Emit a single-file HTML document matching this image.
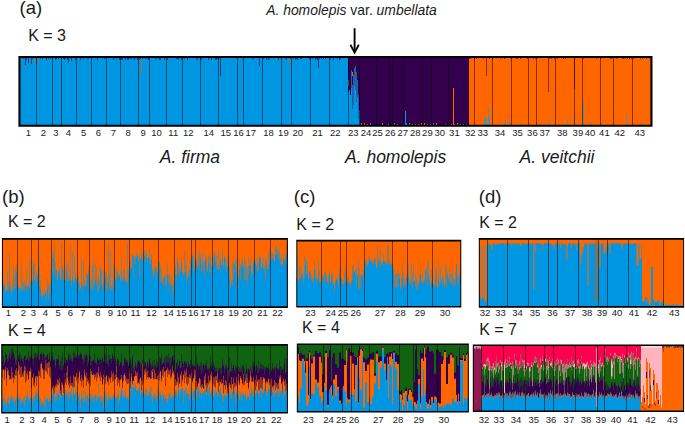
<!DOCTYPE html>
<html><head><meta charset="utf-8"><style>
html,body{margin:0;padding:0;background:#fff;}
body{width:685px;height:424px;overflow:hidden;}
svg{display:block;font-family:"Liberation Sans",sans-serif;fill:#1a1a1a;}
text{fill:#1a1a1a;}
</style></head><body>
<svg width="685" height="424" viewBox="0 0 685 424" shape-rendering="crispEdges">
<rect width="685" height="424" fill="#fff"/>
<rect x="20" y="57.6" width="328" height="67.6" fill="#0096e2"/>
<rect x="348" y="57.6" width="120.5" height="67.6" fill="#33004d"/>
<rect x="468.5" y="57.6" width="182.5" height="67.6" fill="#ff6600"/>
<rect x="348" y="92" width="1" height="33.2" fill="#0096e2"/>
<rect x="349" y="90" width="1" height="35.2" fill="#0096e2"/>
<rect x="350" y="95" width="1" height="30.2" fill="#0096e2"/>
<rect x="351" y="70" width="1" height="55.2" fill="#1e5fb4"/>
<rect x="351" y="88" width="1" height="37.2" fill="#0096e2"/>
<rect x="352" y="85" width="1" height="40.2" fill="#1e5fb4"/>
<rect x="352" y="109" width="1" height="16.2" fill="#0096e2"/>
<rect x="353" y="75" width="1" height="50.2" fill="#1e5fb4"/>
<rect x="353" y="105" width="1" height="20.2" fill="#0096e2"/>
<rect x="354" y="68" width="1" height="57.2" fill="#1e5fb4"/>
<rect x="354" y="86" width="1" height="39.2" fill="#0096e2"/>
<rect x="355" y="66" width="1" height="59.2" fill="#1e5fb4"/>
<rect x="355" y="90" width="1" height="35.2" fill="#0096e2"/>
<rect x="356" y="72" width="1" height="53.2" fill="#1e5fb4"/>
<rect x="356" y="102" width="1" height="23.2" fill="#0096e2"/>
<rect x="357" y="80" width="1" height="45.2" fill="#1e5fb4"/>
<rect x="357" y="98" width="1" height="27.2" fill="#0096e2"/>
<rect x="358" y="95" width="1" height="30.2" fill="#1e5fb4"/>
<rect x="358" y="119" width="1" height="6.2" fill="#0096e2"/>
<rect x="359" y="110" width="1" height="15.2" fill="#0096e2"/>
<rect x="348" y="80" width="1" height="6" fill="#ff6600"/>
<rect x="352" y="72" width="1" height="4" fill="#ff6600"/>
<rect x="452.6" y="88" width="1" height="37.2" fill="#ff6600"/>
<rect x="404.5" y="111" width="1" height="14.2" fill="#0096e2"/>
<rect x="361" y="123.2" width="1" height="2" fill="#ff6600"/>
<rect x="364" y="123.2" width="1" height="2" fill="#ff6600"/>
<rect x="367" y="124.2" width="1" height="1" fill="#ff6600"/>
<rect x="370" y="123.2" width="1" height="2" fill="#0096e2"/>
<rect x="382" y="123.2" width="1" height="2" fill="#ff6600"/>
<rect x="388" y="124.2" width="1" height="1" fill="#ff6600"/>
<rect x="394" y="123.2" width="1" height="2" fill="#0096e2"/>
<rect x="397" y="124.2" width="1" height="1" fill="#ff6600"/>
<rect x="403" y="124.2" width="1" height="1" fill="#0096e2"/>
<rect x="406" y="123.2" width="1" height="2" fill="#0096e2"/>
<rect x="409" y="123.2" width="1" height="2" fill="#0096e2"/>
<rect x="412" y="124.2" width="1" height="1" fill="#ff6600"/>
<rect x="415" y="124.2" width="1" height="1" fill="#ff6600"/>
<rect x="418" y="124.2" width="1" height="1" fill="#ff6600"/>
<rect x="421" y="123.2" width="1" height="2" fill="#ff6600"/>
<rect x="424" y="123.2" width="1" height="2" fill="#ff6600"/>
<rect x="427" y="124.2" width="1" height="1" fill="#ff6600"/>
<rect x="430" y="124.2" width="1" height="1" fill="#0096e2"/>
<rect x="433" y="123.2" width="1" height="2" fill="#0096e2"/>
<rect x="436" y="123.2" width="1" height="2" fill="#ff6600"/>
<rect x="445" y="124.2" width="1" height="1" fill="#0096e2"/>
<rect x="451" y="124.2" width="1" height="1" fill="#ff6600"/>
<rect x="454" y="124.2" width="1" height="1" fill="#ff6600"/>
<rect x="457" y="123.2" width="1" height="2" fill="#ff6600"/>
<rect x="460" y="124.2" width="1" height="1" fill="#0096e2"/>
<rect x="463" y="124.2" width="1" height="1" fill="#0096e2"/>
<rect x="466" y="124.2" width="1" height="1" fill="#0096e2"/>
<rect x="483.5" y="118.7" width="1" height="6.5" fill="#4d8fae"/>
<rect x="484.5" y="117" width="1" height="8.2" fill="#4d8fae"/>
<rect x="486" y="119" width="1" height="6.2" fill="#4d8fae"/>
<rect x="487.5" y="106.6" width="1" height="18.6" fill="#4d8fae"/>
<rect x="488.6" y="116" width="1" height="9.2" fill="#4d8fae"/>
<rect x="504.7" y="118.7" width="1" height="6.5" fill="#4d8fae"/>
<rect x="509" y="121" width="1" height="4.2" fill="#4d8fae"/>
<rect x="548.3" y="119.5" width="1" height="5.7" fill="#4d8fae"/>
<rect x="567.2" y="118.7" width="1" height="6.5" fill="#4d8fae"/>
<rect x="574" y="116" width="1" height="9.2" fill="#4d8fae"/>
<rect x="582.5" y="102.3" width="1" height="22.9" fill="#4d8fae"/>
<rect x="626.2" y="114.4" width="1" height="10.8" fill="#4d8fae"/>
<rect x="590" y="122" width="1" height="3.2" fill="#4d8fae"/>
<rect x="540" y="122.5" width="1" height="2.7" fill="#4d8fae"/>
<rect x="520" y="122.8" width="1" height="2.4" fill="#4d8fae"/>
<rect x="600" y="122.8" width="1" height="2.4" fill="#4d8fae"/>
<rect x="640" y="123" width="1" height="2.2" fill="#4d8fae"/>
<rect x="486" y="57.6" width="1" height="18.1" fill="#8a2a3a"/>
<rect x="547.8" y="57.6" width="1" height="33.9" fill="#8a2a3a"/>
<rect x="574.3" y="57.6" width="1" height="31.8" fill="#8a2a3a"/>
<rect x="469" y="57.6" width="1" height="1" fill="#7a3030"/>
<rect x="470" y="57.6" width="1" height="1" fill="#7a3030"/>
<rect x="474" y="57.6" width="1" height="1" fill="#7a3030"/>
<rect x="476" y="57.6" width="1" height="1" fill="#7a3030"/>
<rect x="483" y="57.6" width="1" height="1" fill="#7a3030"/>
<rect x="489" y="57.6" width="1" height="1" fill="#7a3030"/>
<rect x="492" y="57.6" width="1" height="1" fill="#7a3030"/>
<rect x="500" y="57.6" width="1" height="1" fill="#7a3030"/>
<rect x="504" y="57.6" width="1" height="1" fill="#7a3030"/>
<rect x="511" y="57.6" width="1" height="1" fill="#7a3030"/>
<rect x="516" y="57.6" width="1" height="1" fill="#7a3030"/>
<rect x="517" y="57.6" width="1" height="1" fill="#7a3030"/>
<rect x="520" y="57.6" width="1" height="1" fill="#7a3030"/>
<rect x="527" y="57.6" width="1" height="1" fill="#7a3030"/>
<rect x="533" y="57.6" width="1" height="1" fill="#7a3030"/>
<rect x="535" y="57.6" width="1" height="1" fill="#7a3030"/>
<rect x="536" y="57.6" width="1" height="1" fill="#7a3030"/>
<rect x="549" y="57.6" width="1" height="1" fill="#7a3030"/>
<rect x="551" y="57.6" width="1" height="1" fill="#7a3030"/>
<rect x="554" y="57.6" width="1" height="1" fill="#7a3030"/>
<rect x="557" y="57.6" width="1" height="1" fill="#7a3030"/>
<rect x="563" y="57.6" width="1" height="1" fill="#7a3030"/>
<rect x="565" y="57.6" width="1" height="1" fill="#7a3030"/>
<rect x="583" y="57.6" width="1" height="1" fill="#7a3030"/>
<rect x="596" y="57.6" width="1" height="1" fill="#7a3030"/>
<rect x="600" y="57.6" width="1" height="1" fill="#7a3030"/>
<rect x="610" y="57.6" width="1" height="1" fill="#7a3030"/>
<rect x="611" y="57.6" width="1" height="1" fill="#7a3030"/>
<rect x="616" y="57.6" width="1" height="1" fill="#7a3030"/>
<rect x="622" y="57.6" width="1" height="1" fill="#7a3030"/>
<rect x="623" y="57.6" width="1" height="1" fill="#7a3030"/>
<rect x="624" y="57.6" width="1" height="1" fill="#7a3030"/>
<rect x="627" y="57.6" width="1" height="1" fill="#7a3030"/>
<rect x="629" y="57.6" width="1" height="1" fill="#7a3030"/>
<rect x="631" y="57.6" width="1" height="1" fill="#7a3030"/>
<rect x="633" y="57.6" width="1" height="1" fill="#7a3030"/>
<rect x="640" y="57.6" width="1" height="1" fill="#7a3030"/>
<rect x="642" y="57.6" width="1" height="1" fill="#7a3030"/>
<rect x="646" y="57.6" width="1" height="1" fill="#7a3030"/>
<rect x="649" y="57.6" width="1" height="1" fill="#7a3030"/>
<rect x="23" y="57.6" width="1" height="1.5" fill="#1d3f80"/>
<rect x="26" y="57.6" width="1" height="2.5" fill="#1d3f80"/>
<rect x="28" y="57.6" width="1" height="2.5" fill="#1d3f80"/>
<rect x="32" y="57.6" width="1" height="1.5" fill="#1d3f80"/>
<rect x="36" y="57.6" width="1" height="2.5" fill="#1d3f80"/>
<rect x="40" y="57.6" width="1" height="1.5" fill="#1d3f80"/>
<rect x="42" y="57.6" width="1" height="1.5" fill="#1d3f80"/>
<rect x="46" y="57.6" width="1" height="2.5" fill="#1d3f80"/>
<rect x="48" y="57.6" width="1" height="1.5" fill="#1d3f80"/>
<rect x="50" y="57.6" width="1" height="1.5" fill="#1d3f80"/>
<rect x="55" y="57.6" width="1" height="2.5" fill="#1d3f80"/>
<rect x="56" y="57.6" width="1" height="1.5" fill="#1d3f80"/>
<rect x="58" y="57.6" width="1" height="1.5" fill="#1d3f80"/>
<rect x="61" y="57.6" width="1" height="1.5" fill="#1d3f80"/>
<rect x="63" y="57.6" width="1" height="1.5" fill="#1d3f80"/>
<rect x="64" y="57.6" width="1" height="2.5" fill="#1d3f80"/>
<rect x="65" y="57.6" width="1" height="1.5" fill="#1d3f80"/>
<rect x="67" y="57.6" width="1" height="2.5" fill="#1d3f80"/>
<rect x="70" y="57.6" width="1" height="1.5" fill="#1d3f80"/>
<rect x="75" y="57.6" width="1" height="2.5" fill="#1d3f80"/>
<rect x="80" y="57.6" width="1" height="2.5" fill="#1d3f80"/>
<rect x="83" y="57.6" width="1" height="1.5" fill="#1d3f80"/>
<rect x="87" y="57.6" width="1" height="1.5" fill="#1d3f80"/>
<rect x="88" y="57.6" width="1" height="1.5" fill="#1d3f80"/>
<rect x="97" y="57.6" width="1" height="2.5" fill="#1d3f80"/>
<rect x="104" y="57.6" width="1" height="1.5" fill="#1d3f80"/>
<rect x="113" y="57.6" width="1" height="2.5" fill="#1d3f80"/>
<rect x="116" y="57.6" width="1" height="1.5" fill="#1d3f80"/>
<rect x="119" y="57.6" width="1" height="2.5" fill="#1d3f80"/>
<rect x="120" y="57.6" width="1" height="2.5" fill="#1d3f80"/>
<rect x="121" y="57.6" width="1" height="2.5" fill="#1d3f80"/>
<rect x="122" y="57.6" width="1" height="2.5" fill="#1d3f80"/>
<rect x="125" y="57.6" width="1" height="2.5" fill="#1d3f80"/>
<rect x="127" y="57.6" width="1" height="2.5" fill="#1d3f80"/>
<rect x="128" y="57.6" width="1" height="2.5" fill="#1d3f80"/>
<rect x="130" y="57.6" width="1" height="1.5" fill="#1d3f80"/>
<rect x="131" y="57.6" width="1" height="1.5" fill="#1d3f80"/>
<rect x="134" y="57.6" width="1" height="2.5" fill="#1d3f80"/>
<rect x="137" y="57.6" width="1" height="2.5" fill="#1d3f80"/>
<rect x="139" y="57.6" width="1" height="2.5" fill="#1d3f80"/>
<rect x="140" y="57.6" width="1" height="1.5" fill="#1d3f80"/>
<rect x="142" y="57.6" width="1" height="1.5" fill="#1d3f80"/>
<rect x="145" y="57.6" width="1" height="1.5" fill="#1d3f80"/>
<rect x="147" y="57.6" width="1" height="1.5" fill="#1d3f80"/>
<rect x="148" y="57.6" width="1" height="2.5" fill="#1d3f80"/>
<rect x="155" y="57.6" width="1" height="1.5" fill="#1d3f80"/>
<rect x="156" y="57.6" width="1" height="1.5" fill="#1d3f80"/>
<rect x="159" y="57.6" width="1" height="2.5" fill="#1d3f80"/>
<rect x="160" y="57.6" width="1" height="2.5" fill="#1d3f80"/>
<rect x="164" y="57.6" width="1" height="2.5" fill="#1d3f80"/>
<rect x="166" y="57.6" width="1" height="1.5" fill="#1d3f80"/>
<rect x="167" y="57.6" width="1" height="2.5" fill="#1d3f80"/>
<rect x="176" y="57.6" width="1" height="1.5" fill="#1d3f80"/>
<rect x="177" y="57.6" width="1" height="1.5" fill="#1d3f80"/>
<rect x="178" y="57.6" width="1" height="2.5" fill="#1d3f80"/>
<rect x="181" y="57.6" width="1" height="2.5" fill="#1d3f80"/>
<rect x="182" y="57.6" width="1" height="2.5" fill="#1d3f80"/>
<rect x="184" y="57.6" width="1" height="1.5" fill="#1d3f80"/>
<rect x="187" y="57.6" width="1" height="2.5" fill="#1d3f80"/>
<rect x="196" y="57.6" width="1" height="1.5" fill="#1d3f80"/>
<rect x="197" y="57.6" width="1" height="2.5" fill="#1d3f80"/>
<rect x="200" y="57.6" width="1" height="2.5" fill="#1d3f80"/>
<rect x="201" y="57.6" width="1" height="2.5" fill="#1d3f80"/>
<rect x="208" y="57.6" width="1" height="2.5" fill="#1d3f80"/>
<rect x="211" y="57.6" width="1" height="2.5" fill="#1d3f80"/>
<rect x="215" y="57.6" width="1" height="2.5" fill="#1d3f80"/>
<rect x="216" y="57.6" width="1" height="2.5" fill="#1d3f80"/>
<rect x="217" y="57.6" width="1" height="1.5" fill="#1d3f80"/>
<rect x="218" y="57.6" width="1" height="2.5" fill="#1d3f80"/>
<rect x="237" y="57.6" width="1" height="1.5" fill="#1d3f80"/>
<rect x="243" y="57.6" width="1" height="2.5" fill="#1d3f80"/>
<rect x="252" y="57.6" width="1" height="1.5" fill="#1d3f80"/>
<rect x="253" y="57.6" width="1" height="1.5" fill="#1d3f80"/>
<rect x="263" y="57.6" width="1" height="1.5" fill="#1d3f80"/>
<rect x="266" y="57.6" width="1" height="2.5" fill="#1d3f80"/>
<rect x="268" y="57.6" width="1" height="2.5" fill="#1d3f80"/>
<rect x="269" y="57.6" width="1" height="1.5" fill="#1d3f80"/>
<rect x="278" y="57.6" width="1" height="2.5" fill="#1d3f80"/>
<rect x="281" y="57.6" width="1" height="1.5" fill="#1d3f80"/>
<rect x="285" y="57.6" width="1" height="1.5" fill="#1d3f80"/>
<rect x="286" y="57.6" width="1" height="2.5" fill="#1d3f80"/>
<rect x="290" y="57.6" width="1" height="1.5" fill="#1d3f80"/>
<rect x="293" y="57.6" width="1" height="1.5" fill="#1d3f80"/>
<rect x="295" y="57.6" width="1" height="2.5" fill="#1d3f80"/>
<rect x="296" y="57.6" width="1" height="1.5" fill="#1d3f80"/>
<rect x="297" y="57.6" width="1" height="2.5" fill="#1d3f80"/>
<rect x="300" y="57.6" width="1" height="1.5" fill="#1d3f80"/>
<rect x="301" y="57.6" width="1" height="1.5" fill="#1d3f80"/>
<rect x="309" y="57.6" width="1" height="1.5" fill="#1d3f80"/>
<rect x="310" y="57.6" width="1" height="2.5" fill="#1d3f80"/>
<rect x="312" y="57.6" width="1" height="1.5" fill="#1d3f80"/>
<rect x="315" y="57.6" width="1" height="2.5" fill="#1d3f80"/>
<rect x="316" y="57.6" width="1" height="1.5" fill="#1d3f80"/>
<rect x="317" y="57.6" width="1" height="2.5" fill="#1d3f80"/>
<rect x="318" y="57.6" width="1" height="2.5" fill="#1d3f80"/>
<rect x="319" y="57.6" width="1" height="1.5" fill="#1d3f80"/>
<rect x="321" y="57.6" width="1" height="1.5" fill="#1d3f80"/>
<rect x="323" y="57.6" width="1" height="1.5" fill="#1d3f80"/>
<rect x="325" y="57.6" width="1" height="1.5" fill="#1d3f80"/>
<rect x="330" y="57.6" width="1" height="2.5" fill="#1d3f80"/>
<rect x="333" y="57.6" width="1" height="2.5" fill="#1d3f80"/>
<rect x="337" y="57.6" width="1" height="1.5" fill="#1d3f80"/>
<rect x="339" y="57.6" width="1" height="2.5" fill="#1d3f80"/>
<rect x="340" y="57.6" width="1" height="1.5" fill="#1d3f80"/>
<rect x="24.6" y="57.6" width="1" height="10.3" fill="#1d3f80"/>
<rect x="28.2" y="57.6" width="1" height="5.2" fill="#1d3f80"/>
<rect x="30.8" y="57.6" width="1" height="5.9" fill="#1d3f80"/>
<rect x="33.8" y="57.6" width="1" height="6.6" fill="#a07040"/>
<rect x="36.7" y="57.6" width="1" height="4" fill="#a07040"/>
<rect x="68.4" y="57.6" width="1" height="5.2" fill="#1d3f80"/>
<rect x="70.6" y="57.6" width="1" height="3" fill="#1d3f80"/>
<rect x="141.4" y="57.6" width="1" height="17.4" fill="#a07040"/>
<rect x="220.3" y="57.6" width="1" height="18.4" fill="#1d3f80"/>
<rect x="258.8" y="57.6" width="1" height="8.7" fill="#1d3f80"/>
<rect x="288.6" y="57.6" width="1" height="7.8" fill="#a07040"/>
<rect x="317.5" y="57.6" width="1" height="10.4" fill="#1d3f80"/>
<rect x="24.6" y="64.6" width="1" height="3.5" fill="#a07040"/>
<line x1="36.9" y1="57.6" x2="36.9" y2="125.2" stroke="rgba(0,0,0,0.5)" stroke-width="1"/>
<line x1="52.7" y1="57.6" x2="52.7" y2="125.2" stroke="rgba(0,0,0,0.5)" stroke-width="1"/>
<line x1="61.4" y1="57.6" x2="61.4" y2="125.2" stroke="rgba(0,0,0,0.5)" stroke-width="1"/>
<line x1="76.3" y1="57.6" x2="76.3" y2="125.2" stroke="rgba(0,0,0,0.5)" stroke-width="1"/>
<line x1="91.6" y1="57.6" x2="91.6" y2="125.2" stroke="rgba(0,0,0,0.5)" stroke-width="1"/>
<line x1="106.4" y1="57.6" x2="106.4" y2="125.2" stroke="rgba(0,0,0,0.5)" stroke-width="1"/>
<line x1="120.5" y1="57.6" x2="120.5" y2="125.2" stroke="rgba(0,0,0,0.5)" stroke-width="1"/>
<line x1="138.4" y1="57.6" x2="138.4" y2="125.2" stroke="rgba(0,0,0,0.5)" stroke-width="1"/>
<line x1="149.3" y1="57.6" x2="149.3" y2="125.2" stroke="rgba(0,0,0,0.5)" stroke-width="1"/>
<line x1="166.8" y1="57.6" x2="166.8" y2="125.2" stroke="rgba(0,0,0,0.5)" stroke-width="1"/>
<line x1="182.2" y1="57.6" x2="182.2" y2="125.2" stroke="rgba(0,0,0,0.5)" stroke-width="1"/>
<line x1="200.1" y1="57.6" x2="200.1" y2="125.2" stroke="rgba(0,0,0,0.5)" stroke-width="1"/>
<line x1="218.5" y1="57.6" x2="218.5" y2="125.2" stroke="rgba(0,0,0,0.5)" stroke-width="1"/>
<line x1="237.7" y1="57.6" x2="237.7" y2="125.2" stroke="rgba(0,0,0,0.5)" stroke-width="1"/>
<line x1="243" y1="57.6" x2="243" y2="125.2" stroke="rgba(0,0,0,0.5)" stroke-width="1"/>
<line x1="262.4" y1="57.6" x2="262.4" y2="125.2" stroke="rgba(0,0,0,0.5)" stroke-width="1"/>
<line x1="281.2" y1="57.6" x2="281.2" y2="125.2" stroke="rgba(0,0,0,0.5)" stroke-width="1"/>
<line x1="291.7" y1="57.6" x2="291.7" y2="125.2" stroke="rgba(0,0,0,0.5)" stroke-width="1"/>
<line x1="310.6" y1="57.6" x2="310.6" y2="125.2" stroke="rgba(0,0,0,0.5)" stroke-width="1"/>
<line x1="329.7" y1="57.6" x2="329.7" y2="125.2" stroke="rgba(0,0,0,0.5)" stroke-width="1"/>
<line x1="348.3" y1="57.6" x2="348.3" y2="125.2" stroke="rgba(0,0,0,0.5)" stroke-width="1"/>
<line x1="359.7" y1="57.6" x2="359.7" y2="125.2" stroke="rgba(0,0,0,0.5)" stroke-width="1"/>
<line x1="376.1" y1="57.6" x2="376.1" y2="125.2" stroke="rgba(0,0,0,0.5)" stroke-width="1"/>
<line x1="389" y1="57.6" x2="389" y2="125.2" stroke="rgba(0,0,0,0.5)" stroke-width="1"/>
<line x1="392.2" y1="57.6" x2="392.2" y2="125.2" stroke="rgba(0,0,0,0.5)" stroke-width="1"/>
<line x1="403.7" y1="57.6" x2="403.7" y2="125.2" stroke="rgba(0,0,0,0.5)" stroke-width="1"/>
<line x1="422" y1="57.6" x2="422" y2="125.2" stroke="rgba(0,0,0,0.5)" stroke-width="1"/>
<line x1="431.4" y1="57.6" x2="431.4" y2="125.2" stroke="rgba(0,0,0,0.5)" stroke-width="1"/>
<line x1="448.4" y1="57.6" x2="448.4" y2="125.2" stroke="rgba(0,0,0,0.5)" stroke-width="1"/>
<line x1="474.5" y1="57.6" x2="474.5" y2="125.2" stroke="rgba(0,0,0,0.5)" stroke-width="1"/>
<line x1="492.4" y1="57.6" x2="492.4" y2="125.2" stroke="rgba(0,0,0,0.5)" stroke-width="1"/>
<line x1="511.3" y1="57.6" x2="511.3" y2="125.2" stroke="rgba(0,0,0,0.5)" stroke-width="1"/>
<line x1="528.3" y1="57.6" x2="528.3" y2="125.2" stroke="rgba(0,0,0,0.5)" stroke-width="1"/>
<line x1="536.6" y1="57.6" x2="536.6" y2="125.2" stroke="rgba(0,0,0,0.5)" stroke-width="1"/>
<line x1="555.5" y1="57.6" x2="555.5" y2="125.2" stroke="rgba(0,0,0,0.5)" stroke-width="1"/>
<line x1="574" y1="57.6" x2="574" y2="125.2" stroke="rgba(0,0,0,0.5)" stroke-width="1"/>
<line x1="582" y1="57.6" x2="582" y2="125.2" stroke="rgba(0,0,0,0.5)" stroke-width="1"/>
<line x1="600.6" y1="57.6" x2="600.6" y2="125.2" stroke="rgba(0,0,0,0.5)" stroke-width="1"/>
<line x1="613.4" y1="57.6" x2="613.4" y2="125.2" stroke="rgba(0,0,0,0.5)" stroke-width="1"/>
<line x1="632.2" y1="57.6" x2="632.2" y2="125.2" stroke="rgba(0,0,0,0.5)" stroke-width="1"/>
<path d="M18.4 56H652.5V126.8H18.4Z M20.5 58.1V124.7H650.4V58.1Z" fill="#000" fill-rule="evenodd" shape-rendering="geometricPrecision"/>
<rect x="2" y="239.3" width="285.3" height="67.5" fill="#ff6600"/>
<path d="M2 306.8V289.5H2.5V282.1H3V280.2H3.5V285.7H4V285.3H4.5V284.1H5V292.3H5.5V291.6H6V291.3H6.5V289.2H7V271.3H7.5V290.4H8V281.6H8.5V289.5H9V253.1H9.5V286.7H10V281.8H10.5V291.1H11V290.7H11.5V293.8H12V289.8H12.5V284.1H13V290.9H13.5V265.7H14V273.7H14.5V288H15V268.3H15.5V287.9H16V271.7H16.5V264.2H17V288H17.5V283.6H18V287.6H18.5V284.8H19V291.7H19.5V288.3H20V288.7H20.5V288.4H21V263.9H21.5V288.6H22V291.6H22.5V280.6H23V289.6H23.5V282.5H24V289.8H24.5V280.3H25V286.2H25.5V284H26V269.9H26.5V290.4H27V291.3H27.5V286.3H28V284.1H28.5V286.8H29V258.8H29.5V287.5H30V290.1H30.5V281.4H31V281.6H31.5V278.6H32V279.6H32.5V281.2H33V264.5H33.5V259.4H34V263.6H34.5V279.7H35V285H35.5V277.1H36V271.7H36.5V281.1H37V275.9H37.5V273.7H38V292.6H38.5V243.3H39V286.2H39.5V265.7H40V280.9H40.5V289H41V291.4H41.5V296.5H42V295.2H42.5V298.5H43V294.2H43.5V294.1H44V288.9H44.5V296H45V294.1H45.5V291.8H46V299.9H46.5V292.3H47V289.1H47.5V278.3H48V281.6H48.5V299.8H49V285.6H49.5V293.9H50V292.2H50.5V269.6H51V286H51.5V281.3H52V272.3H52.5V253.6H53V258.2H53.5V251.3H54V243.7H54.5V276H55V270.5H55.5V261.9H56V269.4H56.5V270.4H57V280.4H57.5V280.2H58V272.5H58.5V271.1H59V273.4H59.5V266.9H60V279.9H60.5V276.9H61V279.4H61.5V243.3H62V265.5H62.5V269.2H63V280H63.5V269.4H64V278H64.5V280.2H65V281.3H65.5V279.5H66V270.9H66.5V263.4H67V281.2H67.5V262.3H68V276H68.5V281.6H69V279.4H69.5V268.5H70V281.4H70.5V243.3H71V281.1H71.5V286.1H72V251.5H72.5V277.2H73V280H73.5V282.5H74V283H74.5V256.7H75V273.4H75.5V278.1H76V278.9H76.5V281H77V276.7H77.5V285.8H78V282.4H78.5V275.8H79V290.4H79.5V283.1H80V288.2H80.5V289H81V282.8H81.5V258.7H82V284.8H82.5V293H83V287H83.5V260.6H84V279.9H84.5V286.6H85V286H85.5V285.6H86V273H86.5V280.4H87V274.3H87.5V276.1H88V271.2H88.5V266H89V289.4H89.5V289H90V288.8H90.5V279.4H91V291.3H91.5V280.8H92V287.1H92.5V265.5H93V290H93.5V260.1H94V283.4H94.5V283.1H95V278.8H95.5V262.8H96V267.2H96.5V284.6H97V292.5H97.5V279.8H98V291.6H98.5V276.5H99V287.2H99.5V280.5H100V270.3H100.5V266.6H101V268.9H101.5V285.2H102V290.9H102.5V285.3H103V282H103.5V270.4H104V290.9H104.5V287.4H105V272.6H105.5V278.3H106V291.7H106.5V272H107V277H107.5V289.6H108V243.3H108.5V282.7H109V274.3H109.5V287.3H110V290.9H110.5V251.3H111V285.9H111.5V289.8H112V280.8H112.5V290.9H113V263.9H113.5V287.2H114V288.3H114.5V264.9H115V276.8H115.5V282.9H116V269.6H116.5V279.6H117V276.6H117.5V270.7H118V277.9H118.5V272.8H119V275.3H119.5V276.3H120V281.9H120.5V280.2H121V257H121.5V270.7H122V280.5H122.5V278H123V280.9H123.5V269.9H124V268.2H124.5V276.5H125V282H125.5V279.1H126V283.4H126.5V281.4H127V243.3H127.5V283.6H128V274.8H128.5V270.2H129V286.4H129.5V261H130V261.3H130.5V267.4H131V268.5H131.5V267.5H132V253.6H132.5V255.3H133V276.9H133.5V255.4H134V257.6H134.5V256.5H135V256H135.5V264.1H136V252.2H136.5V258.3H137V255.2H137.5V256.4H138V255.7H138.5V260.7H139V278.2H139.5V259.5H140V257.8H140.5V258.6H141V254.3H141.5V252.1H142V260.1H142.5V261.5H143V261.1H143.5V252.4H144V250.3H144.5V256H145V262.5H145.5V250.3H146V253.6H146.5V257.8H147V257.5H147.5V262.5H148V256.8H148.5V257.3H149V248.8H149.5V263.8H150V258.8H150.5V264.3H151V253.6H151.5V259.9H152V268.8H152.5V271.8H153V275.2H153.5V277.4H154V268.1H154.5V272.8H155V271H155.5V266.4H156V266.6H156.5V279.4H157V272.5H157.5V269.6H158V274.1H158.5V282.6H159V262.3H159.5V262.4H160V281.5H160.5V265.5H161V281.1H161.5V269.9H162V277.5H162.5V284.1H163V284.7H163.5V277.6H164V276H164.5V275.7H165V273.5H165.5V287.1H166V280.5H166.5V285H167V262.8H167.5V274.7H168V282.2H168.5V275H169V291.5H169.5V273.3H170V282.3H170.5V285.1H171V276.2H171.5V285.5H172V284.1H172.5V298.5H173V291.2H173.5V283.7H174V291H174.5V270.4H175V266H175.5V275.2H176V273.5H176.5V279.9H177V256.8H177.5V261.3H178V264.9H178.5V275.7H179V275.9H179.5V267.7H180V269.4H180.5V271.2H181V257.5H181.5V262.9H182V274.8H182.5V272H183V275.8H183.5V273.6H184V249.8H184.5V272.9H185V271.4H185.5V261.3H186V281.7H186.5V265H187V279.2H187.5V275.9H188V271.3H188.5V276.5H189V267.9H189.5V275.8H190V270.6H190.5V260.1H191V262.1H191.5V257.7H192V252.9H192.5V256.5H193V271.5H193.5V256H194V271.2H194.5V266.6H195V262.2H195.5V258.6H196V263.8H196.5V258.9H197V266.5H197.5V268.6H198V252.8H198.5V265.6H199V250.7H199.5V270.9H200V254.8H200.5V258.7H201V272.9H201.5V263.2H202V266.7H202.5V253.1H203V271H203.5V260.7H204V275.9H204.5V262.1H205V259.6H205.5V253.9H206V257.8H206.5V266.2H207V271.7H207.5V270.1H208V263.3H208.5V256.1H209V256.3H209.5V272.7H210V264H210.5V255.2H211V276.3H211.5V265.8H212V267.7H212.5V267.2H213V264.6H213.5V257.9H214V251H214.5V253.2H215V256.4H215.5V262.6H216V255.7H216.5V269H217V266.6H217.5V268.5H218V270H218.5V249.3H219V269.9H219.5V262.7H220V260.4H220.5V258.6H221V265.1H221.5V266H222V258.1H222.5V248.6H223V268.6H223.5V265.1H224V255.2H224.5V258.2H225V267.5H225.5V257.2H226V263.5H226.5V272.2H227V267H227.5V259.7H228V255.1H228.5V265.8H229V276.1H229.5V266.4H230V285.6H230.5V287.3H231V283H231.5V280.5H232V260.8H232.5V285.9H233V278.8H233.5V264.6H234V261H234.5V264.1H235V272H235.5V260H236V281.8H236.5V266.6H237V275.7H237.5V255.4H238V289.1H238.5V276.7H239V269.2H239.5V258.5H240V279.7H240.5V264.7H241V266.7H241.5V261.9H242V258.7H242.5V263.2H243V266.3H243.5V266.7H244V257.2H244.5V280H245V281.2H245.5V260.6H246V279.6H246.5V268.1H247V266.2H247.5V283.9H248V258H248.5V275H249V265.8H249.5V265.6H250V258.5H250.5V264.6H251V279H251.5V271.5H252V272.9H252.5V274.7H253V261.1H253.5V263.6H254V263.1H254.5V258.9H255V262H255.5V264.1H256V268.3H256.5V265.2H257V258.5H257.5V273.2H258V262.9H258.5V270.2H259V256.6H259.5V254.8H260V258.6H260.5V257.9H261V267.2H261.5V268.6H262V266.7H262.5V263.1H263V268.5H263.5V258H264V273.3H264.5V265H265V257.5H265.5V281.8H266V259.9H266.5V264.7H267V269.6H267.5V268.9H268V268.1H268.5V253.3H269V264.1H269.5V249.1H270V261.2H270.5V262.6H271V258.5H271.5V252.8H272V258.3H272.5V253.3H273V259.4H273.5V253.9H274V262.4H274.5V260.5H275V245.7H275.5V255.1H276H276.5V245.9H277V248.5H277.5V253.8H278V248.3H278.5V258.8H279V259.9H279.5V251.9H280V257.6H280.5V264.7H281V253.8H281.5V264.7H282V264.5H282.5V267.2H283V259.6H283.5V259.1H284V252H284.5V260.7H285V262.4H285.5V256.4H286V258.4H286.5V253.6H287V244.7H287.5V255.3H287.3V306.8Z" fill="#0096e2" shape-rendering="geometricPrecision"/>
<line x1="17.5" y1="239.3" x2="17.5" y2="306.8" stroke="rgba(0,0,0,0.5)" stroke-width="1"/>
<line x1="31.3" y1="239.3" x2="31.3" y2="306.8" stroke="rgba(0,0,0,0.5)" stroke-width="1"/>
<line x1="38.2" y1="239.3" x2="38.2" y2="306.8" stroke="rgba(0,0,0,0.5)" stroke-width="1"/>
<line x1="51.5" y1="239.3" x2="51.5" y2="306.8" stroke="rgba(0,0,0,0.5)" stroke-width="1"/>
<line x1="64.6" y1="239.3" x2="64.6" y2="306.8" stroke="rgba(0,0,0,0.5)" stroke-width="1"/>
<line x1="77.7" y1="239.3" x2="77.7" y2="306.8" stroke="rgba(0,0,0,0.5)" stroke-width="1"/>
<line x1="89.9" y1="239.3" x2="89.9" y2="306.8" stroke="rgba(0,0,0,0.5)" stroke-width="1"/>
<line x1="104.3" y1="239.3" x2="104.3" y2="306.8" stroke="rgba(0,0,0,0.5)" stroke-width="1"/>
<line x1="114.4" y1="239.3" x2="114.4" y2="306.8" stroke="rgba(0,0,0,0.5)" stroke-width="1"/>
<line x1="129.6" y1="239.3" x2="129.6" y2="306.8" stroke="rgba(0,0,0,0.5)" stroke-width="1"/>
<line x1="143.8" y1="239.3" x2="143.8" y2="306.8" stroke="rgba(0,0,0,0.5)" stroke-width="1"/>
<line x1="158.5" y1="239.3" x2="158.5" y2="306.8" stroke="rgba(0,0,0,0.5)" stroke-width="1"/>
<line x1="174.6" y1="239.3" x2="174.6" y2="306.8" stroke="rgba(0,0,0,0.5)" stroke-width="1"/>
<line x1="191.6" y1="239.3" x2="191.6" y2="306.8" stroke="rgba(0,0,0,0.5)" stroke-width="1"/>
<line x1="195.8" y1="239.3" x2="195.8" y2="306.8" stroke="rgba(0,0,0,0.5)" stroke-width="1"/>
<line x1="212.3" y1="239.3" x2="212.3" y2="306.8" stroke="rgba(0,0,0,0.5)" stroke-width="1"/>
<line x1="228.6" y1="239.3" x2="228.6" y2="306.8" stroke="rgba(0,0,0,0.5)" stroke-width="1"/>
<line x1="237.5" y1="239.3" x2="237.5" y2="306.8" stroke="rgba(0,0,0,0.5)" stroke-width="1"/>
<line x1="254" y1="239.3" x2="254" y2="306.8" stroke="rgba(0,0,0,0.5)" stroke-width="1"/>
<line x1="270.8" y1="239.3" x2="270.8" y2="306.8" stroke="rgba(0,0,0,0.5)" stroke-width="1"/>
<path d="M1.9 238.1H287.9V308.1H1.9Z M2.9 239.8V306.3H286.8V239.8Z" fill="#000" fill-rule="evenodd" shape-rendering="geometricPrecision"/>
<rect x="2" y="345.3" width="285.3" height="67.2" fill="#106410"/>
<path d="M2 412.5V349.6H2.5V360.2H3V366H3.5V355.9H4V363.9H4.5V361.7H5V361.6H5.5V351.5H6V354.3H6.5V354.4H7V358.9H7.5V362.5H8V361.1H8.5V355.5H9V357.4H9.5V350.7H10V358.8H10.5V353.2H11V348.4H11.5V355.8H12V352.4H12.5V347.8H13V352.7H13.5V350.9H14V358H14.5V355.2H15V361.5H15.5V364.6H16V366H16.5V359.9H17V361.8H17.5V357.7H18V359.3H18.5V355.4H19V352.1H19.5V354.4H20V358.4H20.5V361.2H21V355.8H21.5V358.2H22V361.8H22.5V359H23V357.9H23.5V363.9H24V356.6H24.5V355.8H25V355.7H25.5V360.7H26V359.7H26.5V359.4H27V356.9H27.5V359.4H28V351.6H28.5V361.1H29V360.2H29.5V356.7H30V357.5H30.5V358.4H31V356.8H31.5V354.6H32V358.8H32.5V358.3H33V358.2H33.5V365.4H34V353H34.5V356.8H35V352.6H35.5V357.5H36V354.3H36.5V359.1H37V356.5H37.5V353.2H38V359.8H38.5V358.5H39V359.4H39.5V360.9H40V353.9H40.5V354H41V355H41.5V351.9H42V354.3H42.5V360.3H43V353.7H43.5V352.6H44V358.9H44.5V354.8H45V358H45.5V357.4H46H46.5V355.5H47V353.4H47.5V355H48V359.6H48.5V359.9H49V352.5H49.5V357.9H50V360.9H50.5V362H51V357H51.5V365.8H52V356.6H52.5V352.5H53V360.1H53.5V359H54H54.5V360.2H55V365.2H55.5V367.8H56V358.2H56.5V360.6H57V359.3H57.5V359H58V355.1H58.5V359.4H59V369.5H59.5V364.4H60V366.2H60.5V360.8H61V370H61.5V357H62V353.2H62.5V369.7H63V364.4H63.5V366.2H64V362.3H64.5V363.9H65V362.8H65.5V358.1H66V360.1H66.5V359.9H67V359.6H67.5V361.8H68V353.2H68.5V356.9H69V360.4H69.5V355.1H70V360.1H70.5V355.2H71V358.8H71.5V360.9H72H72.5V362.4H73V351.4H73.5V357.9H74V357.5H74.5V353.1H75V358H75.5V354.5H76V358.3H76.5V355.4H77V361.5H77.5V352.3H78V354.9H78.5V358.4H79V356.6H79.5V353.9H80V352.4H80.5V354H81V353.6H81.5V355.2H82V359.5H82.5V358.6H83V359.7H83.5V363.9H84V362.1H84.5V354.8H85H85.5V357.4H86V355.1H86.5V353.8H87V366.4H87.5V356.3H88V363.8H88.5V360.6H89V353.8H89.5V354.9H90V356.1H90.5V365.8H91V364.7H91.5V361.1H92V360.4H92.5V361.5H93V360H93.5V359.3H94V363H94.5V353.2H95V360.7H95.5V363.1H96V365.3H96.5V363.3H97V359.1H97.5V356.9H98V360.1H98.5V360.4H99V364.5H99.5V359.3H100V357.7H100.5V359.9H101V360.3H101.5V363.3H102V356.9H102.5V358.8H103V362.1H103.5V361.6H104V354.3H104.5V361.6H105V354.2H105.5V363.6H106V363.5H106.5V347.3H107V363.9H107.5V360.9H108V355.7H108.5V366.5H109V355.2H109.5V360.3H110V358.4H110.5V358.8H111V363.3H111.5V358.4H112V355.8H112.5V353.4H113V356.7H113.5V359H114V361.2H114.5V364.3H115V357.7H115.5V361H116V371.9H116.5V363.5H117V359.2H117.5V358.9H118V359.8H118.5V361.1H119V364.8H119.5V366.1H120V361.5H120.5V363.2H121V353.6H121.5V362.3H122V364.8H122.5V368.7H123V366.1H123.5V365.7H124V358.7H124.5V356.2H125V361.7H125.5V358.9H126V359.7H126.5V362.1H127V360.1H127.5V362.6H128V366.1H128.5V365.5H129V361.9H129.5V364.4H130V360.5H130.5V357.7H131V371.7H131.5V364.3H132V355.4H132.5V356.4H133V373.4H133.5V368.4H134V366.8H134.5V372.1H135V365.4H135.5V362H136V368.5H136.5V366.4H137V360.2H137.5V364.1H138V360.9H138.5V360.8H139V361.6H139.5V362.8H140V362.2H140.5V370H141V363.8H141.5V365.2H142V359.2H142.5V362.8H143V367.3H143.5V370.8H144V361H144.5V365.6H145V363.3H145.5V362.4H146V371.1H146.5V366.4H147V362.7H147.5V361.4H148V368.4H148.5V365.6H149V359H149.5V359.6H150V362.4H150.5V363.8H151V368.3H151.5V365H152V366.5H152.5V360.6H153V365.3H153.5V371.2H154V359.9H154.5V369.9H155V364.7H155.5V366.6H156V368.2H156.5V359.3H157V361.9H157.5V367.8H158V366H158.5V362.2H159V372.6H159.5V356.4H160V357.9H160.5V359.2H161V354.6H161.5V364.1H162V362.7H162.5V364.8H163V361.5H163.5V363H164V363.8H164.5V358H165V356H165.5V368H166V355.2H166.5V362.7H167V356.8H167.5V362.4H168V362.2H168.5V353.2H169V358.6H169.5V366.3H170V365.4H170.5V357.6H171V358.1H171.5V362.2H172V356H172.5V356.2H173V355H173.5V360.5H174V359.1H174.5V371.5H175V369.5H175.5V372.1H176V363.1H176.5V363.3H177V359.8H177.5V368.4H178V365.9H178.5V364.9H179V361.1H179.5H180V367.9H180.5V368.1H181V367.3H181.5V353.6H182V363.4H182.5V361.2H183V363.8H183.5V367.3H184V362.2H184.5V361H185V360.8H185.5V363.7H186V361.5H186.5V364H187V367H187.5V367.1H188V361.3H188.5V363.1H189V365.3H189.5V365H190V368.1H190.5V359.7H191V368.9H191.5V360.7H192V365.1H192.5V365.4H193V366.9H193.5V363.6H194V365.6H194.5V367H195V370.2H195.5V366.8H196V355.6H196.5V369.7H197V362.4H197.5V364.9H198V364.5H198.5V370.7H199V365.8H199.5V366.3H200V363.2H200.5V369.4H201V361.4H201.5V374.5H202V365.2H202.5V371.9H203V363.2H203.5V365.1H204V364.9H204.5V369.5H205V363H205.5V366.1H206V360.1H206.5V365.9H207V368.4H207.5V369.9H208V370.2H208.5V367.9H209V373.3H209.5V367.4H210V356.8H210.5V365.8H211V368.4H211.5V362.7H212V365.5H212.5V366.1H213V361.3H213.5V369.9H214V364.9H214.5V367.6H215V367.9H215.5V371.6H216V371.1H216.5V367.6H217V373.6H217.5V377.2H218V370.9H218.5V368.4H219V368.6H219.5V368.2H220V367.4H220.5V374.3H221V372.4H221.5V367.9H222V365.7H222.5V359H223V363.8H223.5V366.5H224V368.3H224.5V372.7H225V368.7H225.5V364H226V365.5H226.5V367H227V368H227.5V380.8H228V366H228.5V368.7H229V375.6H229.5V357.8H230V370.7H230.5V371.8H231V372H231.5V362.6H232V370.8H232.5V368.1H233V365.2H233.5V365.6H234V370.9H234.5V368.2H235V373.2H235.5V365H236V367H236.5V368.4H237V372H237.5V368.1H238V371.7H238.5V366.7H239V371.1H239.5V368.2H240V372H240.5V368.5H241V372.1H241.5V366.8H242V365.2H242.5V374.6H243V367.1H243.5V364.6H244V374.7H244.5V368.9H245V371.7H245.5V378.5H246V365.2H246.5V368.2H247V378H247.5V370.5H248V367.9H248.5V369.4H249V369.9H249.5V370H250V366.6H250.5V369H251V370.6H251.5V373.1H252V363.7H252.5V372.7H253V365.4H253.5V360.9H254V367.4H254.5V362.2H255V372.1H255.5V366.7H256V366.2H256.5V364.3H257V367.8H257.5V373.8H258V373H258.5V361H259V368.1H259.5V370.7H260V367.7H260.5V362.4H261V363.9H261.5V369.1H262V365.3H262.5V370H263V364.9H263.5V368.4H264V374.3H264.5V367.1H265V370.1H265.5V367.9H266V367.3H266.5V366.1H267V368.4H267.5V368H268V364H268.5V368.8H269V369H269.5V374.8H270V372.3H270.5V376.8H271V371.4H271.5V369.5H272V367.8H272.5V363.2H273V369.8H273.5V369.6H274V367.5H274.5V368.4H275V376.6H275.5V367.1H276V368.3H276.5V364H277V370.1H277.5V367.9H278V370.4H278.5V368.3H279V369.3H279.5V360.1H280V374.6H280.5V365.9H281V370.7H281.5V366.6H282V369.4H282.5V368.8H283V373.9H283.5V367.6H284V358.5H284.5V363.5H285V374.5H285.5V371.9H286V359.1H286.5V372.5H287V366.2H287.5V359.4H287.3V412.5Z" fill="#33004d" shape-rendering="geometricPrecision"/>
<path d="M2 412.5V377.5H2.5V369.4H3V369.9H3.5V368.9H4V370.5H4.5V379.5H5V369.7H5.5V366.9H6V385.4H6.5V378H7V367.9H7.5V371.5H8V374.7H8.5V370.2H9V379.8H9.5V376H10V379.2H10.5V378.7H11V379.1H11.5V367H12V372.2H12.5V377.8H13V377.4H13.5V383.2H14V375H14.5V379H15V370.2H15.5V375.6H16V375.8H16.5V368.1H17V371.1H17.5V372.1H18V361.8H18.5V370.6H19V374.9H19.5V365.2H20V367.2H20.5V377.2H21V366.6H21.5V377.6H22V376.2H22.5V374H23V377H23.5V371.5H24V370.8H24.5V365.6H25V382.8H25.5V367H26V381H26.5V373.5H27V370.7H27.5V374.7H28V379.4H28.5V379.1H29V370.8H29.5V372H30V371.2H30.5V367.5H31V369.2H31.5V388H32V377.7H32.5V377.6H33V385.1H33.5V373.6H34V387.1H34.5V382.6H35V376.3H35.5V377.5H36V376.1H36.5V385.6H37V375.9H37.5V377.3H38V370.5H38.5V368.8H39V371.4H39.5V376.1H40V377.7H40.5V364.1H41V362.1H41.5V363.9H42V369.6H42.5V368.3H43V378.7H43.5V370H44V379.1H44.5V369.6H45V370.8H45.5V359.5H46V363.7H46.5V371.7H47V373.9H47.5V363.1H48V361.9H48.5V368.1H49V376.6H49.5V361.2H50V378.6H50.5V367H51V372.1H51.5V391.6H52V386.8H52.5V389H53V395.6H53.5V385.5H54V386.9H54.5V393.3H55V387.6H55.5V384.9H56V383.7H56.5V387.6H57V385H57.5V379.1H58V385.6H58.5V379.9H59V378.3H59.5V383.2H60V393.6H60.5V390.3H61V382.1H61.5V395.5H62V384.4H62.5V383.3H63V392.9H63.5V387.6H64V385.1H64.5V373.1H65V379.5H65.5V382.4H66V385H66.5V372.2H67V377.9H67.5V365.9H68V385.3H68.5V380.4H69V383.2H69.5V387.9H70V385.8H70.5V376.5H71V385.7H71.5V383H72V387.6H72.5V382.8H73V386.4H73.5V375.2H74V376.6H74.5V387.2H75V376.5H75.5V377.3H76V372.9H76.5V380.8H77V378.4H77.5V368.1H78V376.8H78.5V383.5H79V372.5H79.5V370.8H80V378.9H80.5V381.3H81V375.1H81.5V386.2H82V378.2H82.5V380.9H83V380H83.5V387.9H84V369.5H84.5V373.6H85V375.8H85.5V377H86V385.9H86.5V372.5H87V378.2H87.5V381.8H88V383.6H88.5V380.2H89V382.4H89.5V377H90V368.5H90.5V386.3H91V373.9H91.5V371.1H92V374.9H92.5V375.2H93V375H93.5V373.2H94V379.7H94.5V374.5H95V374.2H95.5V377.4H96V381.5H96.5V372.8H97V372.5H97.5V377.5H98V373.7H98.5V367H99V377.9H99.5V375.8H100V371.9H100.5V381.3H101V375.6H101.5V377.7H102V384.8H102.5V383.8H103V374.5H103.5V379.2H104V369.8H104.5V377.3H105V376.9H105.5V384.3H106V375.5H106.5H107V381.6H107.5V381.8H108V376.2H108.5V385H109V379.4H109.5V377.6H110V382.8H110.5V377.9H111V377.1H111.5V371.1H112V381.9H112.5V373.8H113V372.6H113.5V380.4H114V374.7H114.5V378.7H115V379.3H115.5V374.7H116V377H116.5V365.7H117V385.4H117.5V377.4H118V378.2H118.5V382.4H119V379.9H119.5V386.8H120V379.8H120.5V379.5H121V375.1H121.5V378.5H122V382.8H122.5V387.9H123V380.7H123.5V374.9H124V374.7H124.5V373.3H125V380.4H125.5V375.7H126V383.2H126.5V378.6H127V384.1H127.5V378.7H128V383.2H128.5V379.1H129V368.1H129.5V372.6H130V389H130.5V381.2H131V373.2H131.5V376.8H132V380.6H132.5V384.4H133V380.7H133.5V381.1H134V375.9H134.5V376.8H135V370.7H135.5V375.9H136V376.1H136.5V373.1H137V383.8H137.5V371.8H138V382H138.5V383.1H139V384.3H139.5V379.1H140V377.7H140.5V377.2H141V380.4H141.5V390.6H142V385H142.5V363.5H143V382.5H143.5V378.3H144V374.7H144.5V369.8H145V372.4H145.5V368.6H146V371.1H146.5V379.7H147V377.2H147.5V370.7H148V378.4H148.5V377H149V377.1H149.5V377.6H150V378.5H150.5V378.7H151V370.5H151.5V378.8H152V372.1H152.5V369.1H153V380.1H153.5V377.9H154V369.5H154.5V379.1H155V373.1H155.5V379H156H156.5V379.1H157V375.9H157.5V379.6H158V370.6H158.5V375H159V380.4H159.5V373.3H160V371H160.5V371.5H161V378.8H161.5V381.7H162V369.3H162.5V375.4H163V367.1H163.5V376.9H164V371.3H164.5V372.3H165V386H165.5V371H166V369.8H166.5V370.1H167V377.2H167.5V367.5H168V374.4H168.5V369.7H169V370.8H169.5V374.8H170V378.8H170.5V368.7H171V375.4H171.5V377.6H172V365.7H172.5V373.2H173V370.9H173.5V373.2H174V371.4H174.5V375.1H175V386H175.5V379.1H176V381.5H176.5V384.9H177V382.5H177.5V373.1H178V387.3H178.5V377.1H179V384.1H179.5V382.8H180V374.6H180.5V375.2H181V386.3H181.5V371.2H182V381.6H182.5V379.3H183V375.3H183.5V374.3H184V370.3H184.5V382.9H185V371.8H185.5V377.4H186V383.8H186.5V368.5H187V385.5H187.5V376.5H188V383.4H188.5V376.9H189V374.3H189.5V378.6H190V378.1H190.5V375.3H191V369H191.5V373.1H192V381.1H192.5V382.4H193V378.8H193.5V377.7H194V375.5H194.5V369.5H195V370.2H195.5V369.7H196V389.2H196.5V380.9H197V386H197.5V387H198V382.8H198.5V383.7H199V378.1H199.5V378.5H200V386.9H200.5V379.3H201V384.9H201.5V388.5H202V383.9H202.5V386.7H203V388.8H203.5V387.9H204V379.7H204.5V376H205V385.6H205.5V373.6H206V383.5H206.5V392.2H207V382.7H207.5V387.5H208V384.6H208.5V375.8H209V383.3H209.5V380.2H210V374H210.5V380.8H211V371.5H211.5V375.8H212V380.7H212.5V393.1H213V384.4H213.5V377.4H214V377.3H214.5V386.6H215V387.7H215.5V376H216H216.5V380.6H217V373.6H217.5V383.1H218V392.1H218.5V382.1H219V386.3H219.5V379.6H220V382.3H220.5H221V379.3H221.5V384.3H222V383.2H222.5V383.3H223V376.1H223.5V393.4H224V385.4H224.5V385.2H225V389.8H225.5V379.8H226V381.1H226.5V385.1H227V393.4H227.5V388H228V368.9H228.5V393.6H229V382.7H229.5V384.7H230V384.5H230.5V387.5H231V389.5H231.5V377.1H232V384.5H232.5V384.1H233V394.8H233.5V377.5H234V387.8H234.5V382.5H235V385.9H235.5V383.3H236V377.1H236.5V385.7H237V389H237.5V379.7H238V381.3H238.5V373.9H239V383.2H239.5V385.3H240V378H240.5V376.1H241V378.6H241.5V380H242V383.1H242.5V384H243V373.9H243.5V385.8H244V384.7H244.5V382H245V377.4H245.5V380.6H246V373.8H246.5V382.5H247V378H247.5V383H248V389H248.5V387.2H249V382.6H249.5V380.6H250V375.8H250.5V370.8H251V381.8H251.5V377.5H252V380.9H252.5V382.1H253V376.5H253.5V381.6H254V384.8H254.5V379.3H255V380.2H255.5V390.1H256V386.5H256.5V375.2H257V382.1H257.5V380.4H258V389.6H258.5V379.5H259V390.3H259.5V379.4H260V387.7H260.5V376.9H261V388.5H261.5V377.3H262V389.8H262.5V380.5H263V376.9H263.5V378.5H264V377.7H264.5V379H265V391.2H265.5V382.7H266V380.8H266.5V381.9H267V381.6H267.5V383.4H268V378.4H268.5V378.9H269V385.1H269.5V382.7H270V382.8H270.5V377.1H271V378.7H271.5V396H272V387.3H272.5V386H273V389.7H273.5V385.6H274V385.1H274.5V379.9H275V382.1H275.5V390.3H276V382.9H276.5V387.4H277V384.6H277.5V389.1H278V382.9H278.5V388.7H279V376.5H279.5V379H280V377.6H280.5V375H281V383.1H281.5V384H282V393.5H282.5V380.9H283V378.4H283.5V381.9H284V385.8H284.5V380.8H285V379.4H285.5V391.6H286V391.3H286.5V383.8H287V391.4H287.5V379.3H287.3V412.5Z" fill="#ff6600" shape-rendering="geometricPrecision"/>
<path d="M2 412.5V400.1H2.5V398.5H3V398.2H3.5V405.8H4V394.1H4.5V404.3H5V400.3H5.5V404.9H6V401.3H6.5V408.2H7V402.5H7.5V397.9H8V396.6H8.5V402.2H9V403.8H9.5V404.6H10V398.8H10.5V396.7H11V398.1H11.5V395.7H12V402.5H12.5V396.3H13V400.7H13.5V397.6H14V406.6H14.5V398H15V399.6H15.5V401.4H16V397.7H16.5V405.5H17V398.5H17.5V395.1H18V397.3H18.5V400.2H19V398.3H19.5V394.3H20V399.3H20.5V405.2H21V403.1H21.5V399H22V401.9H22.5V399.9H23V397H23.5V402.9H24V407.1H24.5V396.1H25V399.8H25.5V400.4H26V396.2H26.5V394.9H27V389.7H27.5V397.2H28V400.1H28.5V396.9H29V398.7H29.5V403.5H30V397.9H30.5V397H31V398.5H31.5V402.3H32V405.8H32.5V398.2H33V396.9H33.5V399.8H34V395.7H34.5V402H35V391.4H35.5V395.6H36V394H36.5V389.3H37V399H37.5V392.8H38V400.4H38.5V394.8H39V400.4H39.5V396.6H40V406.7H40.5V398.4H41V401.1H41.5V404.7H42V403.5H42.5V401.2H43V403.6H43.5V403.9H44V406.5H44.5V395.9H45V411.8H45.5V398.3H46V397.5H46.5V400.3H47V398.8H47.5V397.9H48V400.7H48.5V402H49V405.4H49.5V396.8H50V402.2H50.5V400.2H51V394.9H51.5V391.6H52V392.4H52.5V395.6H53H53.5V390.8H54V392.8H54.5V398.4H55V396.9H55.5V402.4H56V389.5H56.5V400.8H57V393.6H57.5V395.2H58V395.1H58.5V389.5H59V401.2H59.5V390.4H60V393.6H60.5V396.3H61V397.2H61.5V395.5H62V394.4H62.5V394.9H63V394.7H63.5V393.8H64V391.3H64.5V397.7H65V389.9H65.5V396H66V390.8H66.5V396.1H67V397.6H67.5V393.2H68V403H68.5V392H69V398.1H69.5V389.3H70V395.9H70.5V391.2H71V387.8H71.5V395.2H72V395H72.5V400.2H73V392H73.5V385.5H74V395H74.5V394.1H75V389.9H75.5V393H76V391.9H76.5V400.5H77V386.5H77.5V401.9H78V396.5H78.5V396.3H79V402.5H79.5V393.4H80V409.3H80.5V400H81V398.1H81.5V391.4H82V396.7H82.5V399.6H83V390.9H83.5V402.9H84V398.5H84.5V402.9H85V391.4H85.5V396.2H86V394.2H86.5V403.8H87V396.1H87.5V395.4H88V399.3H88.5V405.2H89V397.5H89.5V398.1H90V394.2H90.5V400.6H91V397.7H91.5V394H92V393.7H92.5V402.1H93V398.5H93.5V396.4H94V403.1H94.5V396.3H95V395.9H95.5V393.3H96V395.7H96.5V402.5H97V396.5H97.5V398.7H98V383.4H98.5V399H99V396.4H99.5V395.8H100V402.8H100.5V397H101V399.9H101.5V395.3H102V396.9H102.5V402.4H103V407.4H103.5V397.3H104V399.6H104.5V392.3H105V391.2H105.5V408.3H106V393.5H106.5V396.3H107V399.4H107.5V402.8H108V391.4H108.5V400H109V396.1H109.5V399.1H110V398H110.5V395.2H111V398.2H111.5V400.6H112V398.7H112.5V394.9H113V400H113.5V395.3H114V396.9H114.5V394.2H115V397.4H115.5V398.2H116V397.3H116.5V396.5H117V395H117.5V396.7H118V390.6H118.5V403.9H119V400.7H119.5V400.3H120V396.7H120.5V392.9H121V387.9H121.5V389.3H122V396.4H122.5V391.2H123V397.7H123.5V393.6H124V395.6H124.5V398.3H125V388.4H125.5V396.1H126V395.8H126.5V398.8H127V397.8H127.5V398.1H128V397.5H128.5V401H129V401.4H129.5V388.2H130V391H130.5V387.4H131V380H131.5V387.3H132V395.7H132.5V386.7H133V388.2H133.5V386.6H134V381.8H134.5V386.6H135V383.6H135.5V389.3H136V391H136.5V389.9H137V390.8H137.5V389.5H138V388.5H138.5V391.9H139V387.8H139.5V386H140V395.1H140.5V395.4H141V392.5H141.5V390.6H142V387.4H142.5V393H143V392.9H143.5V392.8H144V396.9H144.5V394.1H145V394.4H145.5V388.3H146V393.6H146.5V387.8H147V395.9H147.5V396.7H148V390.3H148.5V396.1H149V392.1H149.5V392.8H150V387H150.5V393.8H151V386.7H151.5V401.2H152V395.9H152.5V403.1H153V395H153.5V397.6H154V398.4H154.5V393.6H155V398.9H155.5V394.2H156V395.7H156.5V401.4H157V396.3H157.5V386.2H158V389.4H158.5V400.2H159V399.9H159.5V392.7H160V394.4H160.5V391.3H161V397.2H161.5V395.6H162V406.1H162.5V392.3H163V393.9H163.5V395H164V398.1H164.5V398.9H165V394.7H165.5V399.4H166V397.6H166.5V401.7H167V398.5H167.5V403.5H168V392.9H168.5V399.2H169V394.9H169.5V394.7H170V397.2H170.5V392.3H171V398.4H171.5V397.9H172V394.9H172.5V395.9H173V396.6H173.5V399H174V397.2H174.5V397.4H175V389.4H175.5V391.7H176V392.9H176.5V389.8H177V395.5H177.5V397H178V387.7H178.5V386.3H179V390.8H179.5V396.7H180V392.5H180.5V389.7H181V388.1H181.5V388.7H182V392.1H182.5V388.9H183V403.4H183.5V388.7H184V389.8H184.5V391H185V388H185.5V397.2H186V393.7H186.5V387.5H187V393.5H187.5V391.2H188V394.1H188.5V394.9H189V399.6H189.5V398.6H190V394.8H190.5V383.7H191V395.4H191.5V391.9H192V399.8H192.5V390.3H193V390.8H193.5V393.5H194V389.7H194.5V390.2H195V389.9H195.5V403.1H196V399.2H196.5V394.4H197V388.5H197.5H198V387.6H198.5V386.9H199V390.4H199.5V396.9H200V392.8H200.5V391H201V396.8H201.5V394H202V392.9H202.5V389.7H203V394.2H203.5V391.4H204V385.2H204.5V390.7H205V392.7H205.5H206V394.5H206.5V395.1H207V392.2H207.5V387.8H208V396.8H208.5V388.3H209V387.3H209.5V385.6H210V394.1H210.5H211V391.8H211.5V390.8H212V387.2H212.5V393.1H213V395.9H213.5V397.5H214V391.1H214.5V396H215V393.8H215.5V387.2H216V392.3H216.5V391.7H217V397H217.5V393.4H218V392.1H218.5V395.7H219V391.8H219.5V390.8H220V388.8H220.5V388H221V395.5H221.5V394.2H222V401.6H222.5V395.2H223V402.1H223.5V395.6H224V396H224.5V394.1H225V396.8H225.5V394.8H226V389.7H226.5V397.5H227V393.4H227.5V395.5H228V392.9H228.5V393.6H229V396.4H229.5V392.1H230V388.9H230.5V395.9H231V393.4H231.5V398.9H232V391.8H232.5V392.2H233V394.8H233.5V390.6H234V392.6H234.5V389.1H235V403.4H235.5V397H236V389.7H236.5V393.1H237V394.8H237.5V395.7H238V395.3H238.5V389.5H239V399.9H239.5V398.8H240V392.8H240.5V395.4H241V401.4H241.5V392.5H242V393.6H242.5V395.7H243V393.1H243.5V393.4H244V396.8H244.5V396.1H245V395.5H245.5V392.5H246V398.3H246.5V400.9H247V397.7H247.5V395.4H248V396H248.5V397.1H249V400.5H249.5V390.1H250V393.9H250.5V393.6H251V389.7H251.5V388.6H252V397.4H252.5V388.7H253V392.8H253.5V396.1H254V388.3H254.5V396.6H255V396.8H255.5V393.9H256V388.9H256.5V393H257V390.4H257.5V389.1H258V393.4H258.5V394.5H259V390.3H259.5V397.3H260V389.4H260.5V389.6H261V397.4H261.5V391.5H262V393.3H262.5V384H263V393.5H263.5V390.4H264V388.3H264.5V390.3H265V391.2H265.5V391.7H266V396H266.5V392H267V396H267.5V391.8H268V387.8H268.5H269V385.1H269.5V391.6H270V389.6H270.5V391.6H271H271.5V396H272V392.3H272.5V392.4H273V396.1H273.5V387.6H274V390.4H274.5V398.1H275V393.6H275.5V393.7H276V392.5H276.5V389.1H277V396.4H277.5V389.1H278V392.8H278.5V388.7H279V396.8H279.5V385.3H280V392.5H280.5V390.7H281V395.8H281.5V390.5H282V393.5H282.5V389H283V388.3H283.5V399.8H284V394.9H284.5V393.7H285V385.7H285.5V391.6H286V391.3H286.5V390.5H287V397.7H287.5V399.1H287.3V412.5Z" fill="#0096e2" shape-rendering="geometricPrecision"/>
<line x1="17.5" y1="345.3" x2="17.5" y2="412.5" stroke="rgba(0,0,0,0.5)" stroke-width="1"/>
<line x1="31.3" y1="345.3" x2="31.3" y2="412.5" stroke="rgba(0,0,0,0.5)" stroke-width="1"/>
<line x1="38.2" y1="345.3" x2="38.2" y2="412.5" stroke="rgba(0,0,0,0.5)" stroke-width="1"/>
<line x1="51.5" y1="345.3" x2="51.5" y2="412.5" stroke="rgba(0,0,0,0.5)" stroke-width="1"/>
<line x1="64.6" y1="345.3" x2="64.6" y2="412.5" stroke="rgba(0,0,0,0.5)" stroke-width="1"/>
<line x1="77.7" y1="345.3" x2="77.7" y2="412.5" stroke="rgba(0,0,0,0.5)" stroke-width="1"/>
<line x1="89.9" y1="345.3" x2="89.9" y2="412.5" stroke="rgba(0,0,0,0.5)" stroke-width="1"/>
<line x1="104.3" y1="345.3" x2="104.3" y2="412.5" stroke="rgba(0,0,0,0.5)" stroke-width="1"/>
<line x1="114.4" y1="345.3" x2="114.4" y2="412.5" stroke="rgba(0,0,0,0.5)" stroke-width="1"/>
<line x1="129.6" y1="345.3" x2="129.6" y2="412.5" stroke="rgba(0,0,0,0.5)" stroke-width="1"/>
<line x1="143.8" y1="345.3" x2="143.8" y2="412.5" stroke="rgba(0,0,0,0.5)" stroke-width="1"/>
<line x1="158.5" y1="345.3" x2="158.5" y2="412.5" stroke="rgba(0,0,0,0.5)" stroke-width="1"/>
<line x1="174.6" y1="345.3" x2="174.6" y2="412.5" stroke="rgba(0,0,0,0.5)" stroke-width="1"/>
<line x1="191.6" y1="345.3" x2="191.6" y2="412.5" stroke="rgba(0,0,0,0.5)" stroke-width="1"/>
<line x1="195.8" y1="345.3" x2="195.8" y2="412.5" stroke="rgba(0,0,0,0.5)" stroke-width="1"/>
<line x1="212.3" y1="345.3" x2="212.3" y2="412.5" stroke="rgba(0,0,0,0.5)" stroke-width="1"/>
<line x1="228.6" y1="345.3" x2="228.6" y2="412.5" stroke="rgba(0,0,0,0.5)" stroke-width="1"/>
<line x1="237.5" y1="345.3" x2="237.5" y2="412.5" stroke="rgba(0,0,0,0.5)" stroke-width="1"/>
<line x1="254" y1="345.3" x2="254" y2="412.5" stroke="rgba(0,0,0,0.5)" stroke-width="1"/>
<line x1="270.8" y1="345.3" x2="270.8" y2="412.5" stroke="rgba(0,0,0,0.5)" stroke-width="1"/>
<path d="M1.2 344H287.9V413.6H1.2Z M2.3 345.8V412H286.9V345.8Z" fill="#000" fill-rule="evenodd" shape-rendering="geometricPrecision"/>
<rect x="296.8" y="241" width="164" height="65.5" fill="#ff6600"/>
<path d="M296.8 306.5V277.9H296.5V282.7H297V279.9H297.5V255.1H298V279.7H298.5V281.2H299V278.7H299.5V266.2H300V278.2H300.5V264.4H301V273.2H301.5V278.7H302V274.3H302.5V271.2H303V284.7H303.5V277.5H304V277.8H304.5V255.2H305V264.6H305.5V259.1H306V260.7H306.5V275.4H307V273.3H307.5V262.6H308V280.6H308.5V278H309V271.9H309.5V270.9H310V278.3H310.5V271.3H311V274.8H311.5V279.9H312V281.4H312.5V278.3H313V283.6H313.5V277.4H314V269.7H314.5V260.9H315V278.5H315.5V268.7H316V276.2H316.5V283.7H317V278.8H317.5V279.7H318V260.6H318.5V278.5H319V269.6H319.5V282.3H320V282.4H320.5V280.4H321V280.3H321.5V285.5H322V282.2H322.5V274.5H323V276.9H323.5V276.1H324V271.7H324.5V282.9H325V271H325.5V274.1H326V275.7H326.5V281.3H327V283.1H327.5V281.2H328V284.8H328.5V276H329V274.3H329.5V270.5H330V283.3H330.5V281.6H331V277H331.5V273.6H332V285.4H332.5V272.8H333V283.4H333.5V282.4H334V292.6H334.5V285H335V280.2H335.5V281.3H336V280.2H336.5V279.5H337V278.6H337.5V276.2H338V287.9H338.5V283.3H339V273.4H339.5V266.3H340V279H340.5V278.1H341V279.3H341.5V278H342V283.8H342.5V284.7H343V283.9H343.5V279.6H344V284.9H344.5V273.1H345V265.6H345.5V282.2H346V281.1H346.5V284.4H347V283.4H347.5V277.4H348V282.7H348.5V276.3H349V283.2H349.5V281.8H350V288.8H350.5V284.3H351V282.2H351.5V281.1H352V280.1H352.5V266.3H353V264.1H353.5V272.2H354V271.3H354.5V272.5H355V275.3H355.5V270.4H356V267.8H356.5V285.2H357V274.9H357.5V275.6H358V289.6H358.5V260.3H359V289.5H359.5V268.3H360V287.2H360.5V276.3H361V274.4H361.5V275.2H362V277.1H362.5V274H363V281H363.5V269H364V279.5H364.5V260.3H365V264.3H365.5V259.1H366V266.8H366.5V260.4H367V263H367.5V265.4H368V257.9H368.5V263.6H369V259.9H369.5V255.4H370V260.7H370.5V261.7H371V262.5H371.5V259.4H372V260.8H372.5V264H373V262H373.5V263.9H374V259.2H374.5V259.4H375V257.7H375.5V264.9H376V269.2H376.5V266.9H377V267.4H377.5V245H378V261.3H378.5V257.3H379V259.3H379.5V260.7H380V249.4H380.5V266.3H381V263.5H381.5V262.6H382V265H382.5V262.7H383V254.8H383.5V261.5H384H384.5V260.5H385V262.1H385.5V266.4H386V263.9H386.5V261.6H387V245H387.5V263.4H388V245H388.5V265.9H389V259.3H389.5V265.9H390V264H390.5V261.5H391V265.1H391.5V263.8H392V263.9H392.5V287.2H393V270H393.5V269.4H394V286.9H394.5V276.2H395V285.8H395.5V273.2H396V289H396.5V273.9H397V268.6H397.5V287.7H398V273.1H398.5V277.4H399V279.4H399.5V273.7H400V289.1H400.5V288.6H401V285.1H401.5V277.2H402V263.8H402.5V278.5H403V286.7H403.5V272.5H404V278.8H404.5V284.3H405V283.3H405.5V287.5H406V277.6H406.5V275H407V278.9H407.5V286.7H408V262.8H408.5V275.7H409V280.9H409.5V282.8H410V285.4H410.5V278.6H411V264.5H411.5V283.2H412V288.4H412.5V273.5H413V264.2H413.5V281.9H414V281.2H414.5V280.8H415V273.6H415.5V286.7H416V289.3H416.5V278.1H417V289.4H417.5V280.3H418V284.1H418.5V286H419V282.5H419.5V273.9H420V275.1H420.5V265.3H421V282.3H421.5V279.9H422V283.3H422.5V273.8H423V281.2H423.5V283.8H424V279.3H424.5V281.1H425V270.3H425.5V269.9H426V268.2H426.5V278.8H427V261.9H427.5V286.3H428V273.9H428.5V259.5H429V282.7H429.5V276.7H430V287.8H430.5V284.5H431V269.9H431.5V282H432V276.3H432.5V283.6H433V285.7H433.5V283.3H434V287.6H434.5V284.1H435V266.2H435.5V277.5H436V270.7H436.5V285.6H437V287H437.5V289H438V276.4H438.5V261.1H439V286.6H439.5V282.7H440V268.2H440.5V283.8H441V277.2H441.5V280.2H442V276.6H442.5V286.8H443V281.7H443.5V275.8H444V288.1H444.5V285H445V262.3H445.5V283.3H446V268.6H446.5V287.4H447V276.3H447.5V272.8H448V280.5H448.5V277H449V268.7H449.5V282.1H450V273.8H450.5V283.5H451V283.9H451.5V273.6H452V267.1H452.5V285.6H453V282.9H453.5V278.1H454V278.3H454.5V287.8H455V284.3H455.5V271.8H456V264.1H456.5V265.3H457V275.2H457.5V282.5H458V284.4H458.5V277.6H459V272.4H459.5V278H460V274.8H460.5V262H460.8V306.5Z" fill="#0096e2" shape-rendering="geometricPrecision"/>
<line x1="321.5" y1="241" x2="321.5" y2="306.5" stroke="rgba(0,0,0,0.5)" stroke-width="1"/>
<line x1="340.4" y1="241" x2="340.4" y2="306.5" stroke="rgba(0,0,0,0.5)" stroke-width="1"/>
<line x1="346.5" y1="241" x2="346.5" y2="306.5" stroke="rgba(0,0,0,0.5)" stroke-width="1"/>
<line x1="364.4" y1="241" x2="364.4" y2="306.5" stroke="rgba(0,0,0,0.5)" stroke-width="1"/>
<line x1="392.5" y1="241" x2="392.5" y2="306.5" stroke="rgba(0,0,0,0.5)" stroke-width="1"/>
<line x1="407.4" y1="241" x2="407.4" y2="306.5" stroke="rgba(0,0,0,0.5)" stroke-width="1"/>
<line x1="432.7" y1="241" x2="432.7" y2="306.5" stroke="rgba(0,0,0,0.5)" stroke-width="1"/>
<path d="M296.3 239.8H461.3V307.6H296.3Z M297.3 241.6V306H460.3V241.6Z" fill="#000" fill-rule="evenodd" shape-rendering="geometricPrecision"/>
<rect x="297.3" y="344.6" width="171" height="66.9" fill="#106410"/>
<path d="M297.3 411.5V347.2H298H299V354.3H300V353.2H301H302V354.8H303H304V354.7H305V364.5H306V358.3H307H308V353H309V350.7H310V355.6H311V359.3H312H313V355.2H314H315V350.7H316H317V353.3H318H319V352.6H320H321V355.7H322V373.9H323H324V357.3H325V351H326H327V357.6H328H329V349.9H330V345.6H331V380.8H332V357.5H333V353.5H334H335V364.2H336H337V367.7H338H339V352.4H340H341V358.5H342V359H343V358.6H344V360.2H345H346V349.7H347V362.5H348V348.2H349H350V352H351H352V352.4H353H354V355.9H355V356.9H356H357V355.9H358V349.9H359V345.6H360V348.4H361H362V348.9H363V357.5H364H365V359.3H366H367V357.4H368H369V354.5H370V353.7H371H372V352.2H373H374V373H375H376V350.8H377H378V356.8H379H380V356.2H381H382V346.9H383H384V357.2H385H386V354.1H387V353.3H388V354.1H389V352.1H390H391V351.9H392V352.5H393V350.8H394H395V353.4H396H397V355.2H398H399V391.5H400H401V390.1H402V397.7H403V392.8H404H405V387.7H406H407V394.7H408V389H409V388.5H410H411V389.8H412V394.6H413H414V381.9H415V349.6H416V345.6H417V369H418V375.2H419H420V350.2H421V353H422H423V348.6H424V345.6H425V354.1H426V349.3H427V346.5H428H429V351.7H430V351.2H431V351.3H432H433V353.3H434V373.7H435H436V349.4H437V350.1H438V349.9H439V352.1H440H441V356.3H442H443V360H444V349.9H445H446V357.2H447H448V354.4H449H450V352.8H451H452V355.3H453H454V372.5H455H456V356.1H457V365.4H458V366.1H459V347.3H460V358H461H462H463V353.1H464V358.9H465H466V353.1H467V351.8H468H468.3V411.5Z" fill="#33004d" shape-rendering="geometricPrecision"/>
<path d="M297.3 411.5V354H298H299V360.3H300V361H301H302V358.7H303H304V360.9H305V372.7H306V361H307H308V395.1H309V352.4H310V398.9H311V363.5H312H313V356.6H314H315V379.5H316H317V382.6H318H319V356.7H320H321V362.8H322V392.1H323H324V383.3H325V353H326H327V404.7H328H329V389.5H330V386.9H331V385.2H332V395.5H333V379.6H334H335V374.8H336H337V386.7H338H339V400.6H340H341V403.5H342V387.2H343V386.1H344V365.1H345H346V350.3H347V398.2H348V399.4H349H350V355.8H351H352V363.4H353H354V389.1H355V365H356H357V357.1H358V402.5H359V355.7H360V349.2H361H362V350.9H363V362.3H364H365V371.1H366H367V364.4H368H369V362.2H370V359.5H371H372V359.8H373H374V375.7H375H376V353.8H377H378V362.3H379H380V361.1H381H382V347.7H383H384V363.6H385H386V379.7H387V357.6H388V363.9H389V356.8H390H391V353.4H392V359H393V352.7H394H395V361.8H396H397V364H398H399V394.3H400H401V394.9H402V399.4H403V392.8H404H405V391.1H406H407V401.3H408V394.7H409V389.8H410H411V392.1H412V396.7H413H414V401.8H415V402.2H416V404H417V400.8H418V379.1H419H420V403.4H421V358.5H422H423V361H424V347.5H425V357.3H426V402.1H427V403.7H428H429V399.5H430V405H431V397H432H433V403.1H434V396.4H435H436V397.6H437V403.1H438V402.6H439V403.4H440H441V364.1H442H443V360.3H444V351.9H445H446V384.1H447H448V363.7H449H450V354.7H451H452V357.6H453H454V378.8H455H456V395.1H457V401.3H458V393.7H459V401.3H460V360H461H462H463V355.1H464V360.9H465H466V355.1H467V353.8H468H468.3V411.5Z" fill="#ff6600" shape-rendering="geometricPrecision"/>
<path d="M297.3 411.5V396H298H299V402.8H300V388.4H301H302V360.7H303H304V369.8H305V375.8H306V405.7H307H308V402.4H309V366.8H310V400.3H311V393.5H312H313V394.1H314H315V382.4H316H317V387.2H318H319V396.1H320H321V402.7H322V400.9H323H324V385H325V390.8H326H327V406.7H328H329V390H330V387.1H331V394.7H332V399.5H333V384.3H334H335V396.1H336H337V388.9H338H339V402.6H340H341V404.6H342V392.1H343V387.4H344V391.5H345H346V406.3H347V398.4H348V402.3H349H350V394.6H351H352V394.9H353H354V390.1H355V401.6H356H357V361.1H358V404H359V378.2H360V389.4H361H362V356.8H363V407.5H364H365V382.6H366H367V401.9H368H369V397.9H370V404.2H371H372V396.7H373H374V383.6H375H376V361.6H377H378V389.1H379H380V367.5H381H382V349.4H383H384V370.4H385H386V380.1H387V358.8H388V399.1H389V364.7H390H391V367.1H392V404.3H393V354.4H394H395V368.4H396H397V389.8H398H399V402.4H400H401V398.6H402V411H403V404.7H404H405V394.9H406H407V409.6H408V399H409V400.4H410H411V399.8H412V404.4H413H414V405.7H415V407.3H416V409.1H417V401.9H418V384.1H419H420V408.5H421V396.8H422H423V369.2H424V395.5H425V390.1H426V404.1H427V408.6H428H429V403.3H430V408.4H431V401.1H432H433V404.6H434V399.2H435H436V401.7H437V405.3H438V408.1H439V406.7H440H441V406.2H442H443V407.9H444V405.6H445H446V403.8H447H448V403.7H449H450V405.2H451H452V398.7H453H454V401.9H455H456V400.7H457V404.2H458V399.1H459V402.1H460V361H461H462H463V404.5H464V398H465H466V401.2H467V397.8H468H468.3V411.5Z" fill="#0096e2" shape-rendering="geometricPrecision"/>
<line x1="323.2" y1="344.6" x2="323.2" y2="411.5" stroke="rgba(0,0,0,0.5)" stroke-width="1"/>
<line x1="342.1" y1="344.6" x2="342.1" y2="411.5" stroke="rgba(0,0,0,0.5)" stroke-width="1"/>
<line x1="351.6" y1="344.6" x2="351.6" y2="411.5" stroke="rgba(0,0,0,0.5)" stroke-width="1"/>
<line x1="369.7" y1="344.6" x2="369.7" y2="411.5" stroke="rgba(0,0,0,0.5)" stroke-width="1"/>
<line x1="399.4" y1="344.6" x2="399.4" y2="411.5" stroke="rgba(0,0,0,0.5)" stroke-width="1"/>
<line x1="413.7" y1="344.6" x2="413.7" y2="411.5" stroke="rgba(0,0,0,0.5)" stroke-width="1"/>
<line x1="437.2" y1="344.6" x2="437.2" y2="411.5" stroke="rgba(0,0,0,0.5)" stroke-width="1"/>
<path d="M296.8 343.5H468.8V412.6H296.8Z M297.8 345.1V411H467.8V345.1Z" fill="#000" fill-rule="evenodd" shape-rendering="geometricPrecision"/>
<rect x="479.3" y="239.3" width="204.4" height="67.3" fill="#ff6600"/>
<path d="M479.3 306.6V295.3H479.5V297.2H480V296.6H480.5V295.4H481V299.3H481.5V300.4H482V295.8H482.5V297.6H483V299.1H483.5V298.5H484V297.3H484.5V301.1H485V301.2H485.5V300.7H486V298.5H486.5V304H487V303.4H487.5V243.3H488V244.1H488.5V244.2H489V243.3H489.5V243.6H490V244.7H490.5V245.2H491V244.6H491.5V250H492H492.5V244.3H493V243.9H493.5V243.3H494V244.2H494.5V243.3H495V244.4H495.5V244.6H496V243.4H496.5V244H497V244.1H497.5V245.3H498V244.2H498.5V243.7H499H499.5V243.8H500V242.9H500.5V244.8H501V243.7H501.5V243H502V243.2H502.5V243.7H503V243.1H503.5V242.9H504V243H504.5V245.6H505H505.5V243.9H506V243.8H506.5V243.9H507V242.8H507.5V243.8H508V243.2H508.5V243H509V242.9H509.5V244.8H510V242.9H510.5V243.6H511V243.4H511.5V246.7H512V245H512.5V243.2H513V242.9H513.5V243.4H514V244.4H514.5V243.3H515V243.4H515.5V242.8H516V245.2H516.5V243.4H517V243.9H517.5V243H518V243.5H518.5V244.2H519V243H519.5V244.1H520V243.9H520.5V246H521H521.5V243.7H522V243.1H522.5V242.9H523V242.8H523.5V243.7H524V244.8H524.5V244H525V243.7H525.5V245H526V243.8H526.5V243H527V243.3H527.5V244.1H528V244.5H528.5V243.2H529V244.1H529.5V243H530V243.4H530.5V244.2H531V244.7H531.5H532V243.3H532.5V243.1H533V243.5H533.5V289.2H534H534.5V244H535V252.4H535.5V243.1H536V243.3H536.5V243H537V242.9H537.5V243.9H538V243.2H538.5V243.9H539V243.8H539.5V243.5H540V243.8H540.5V244.3H541V243.7H541.5V242.8H542V244.8H542.5V251.1H543V243H543.5V245.3H544V243.5H544.5V243.1H545H545.5V242.8H546V243.2H546.5V243.6H547V244.9H547.5V243.8H548V242.9H548.5V244.1H549V243.3H549.5V243.6H550V245H550.5V243H551V243.3H551.5V244.6H552V246H552.5V244.3H553V245H553.5V249H554H554.5V243.1H555V243.3H555.5V243.7H556V243.4H556.5V244.4H557V243.5H557.5V245.5H558V244.4H558.5V244.7H559V243.2H559.5V242.9H560V243.9H560.5V248H561H561.5V243.3H562V243.6H562.5H563V244.2H563.5V243.5H564V245.1H564.5V243.7H565V244.5H565.5V243.4H566V242.9H566.5V259.5H567H567.5V245.6H568V243.4H568.5V243.7H569V242.9H569.5V243.3H570V242.9H570.5V245.4H571V249.6H571.5V243.9H572V244.3H572.5V243.9H573V244.2H573.5V243.1H574V243.5H574.5V244.9H575V243.1H575.5V244.8H576V242.9H576.5V250.9H577V244.4H577.5V245.9H578V243.3H578.5V242.9H579V243.1H579.5H580V254.3H580.5V264.8H581H581.5V254.5H582V252.7H582.5V247.8H583V247.3H583.5V251H584V243.4H584.5V243.8H585H585.5V243.7H586V244.9H586.5V242.9H587V243.2H587.5V286.6H588H588.5V243.4H589V244.2H589.5V244.6H590V243H590.5V244.4H591V243.6H591.5V244H592V244.2H592.5V244H593V242.8H593.5V243.2H594V244H594.5V244.3H595V244.4H595.5V243.2H596V243.8H596.5V243.2H597V242.8H597.5V250.9H598V245.4H598.5V243.1H599V243.4H599.5V267.4H600H600.5V243.6H601V243.2H601.5V245.3H602V243H602.5V244.3H603V243.3H603.5V254.8H604V251.7H604.5V254.3H605V252.5H605.5V247.9H606V247.1H606.5V252.8H607V243.1H607.5V242.8H608V244.2H608.5V243.2H609V243.1H609.5V253.4H610H610.5V243.2H611V244.2H611.5V242.8H612V242.9H612.5V243.6H613V242.9H613.5V243.4H614V242.9H614.5V243H615V244H615.5V243.7H616V242.9H616.5V244H617V243H617.5V242.8H618V243.4H618.5V242.9H619V244.6H619.5V243.4H620V244.2H620.5V243H621V244.1H621.5V249H622H622.5V243H623V242.9H623.5V245.4H624V243.8H624.5V243.5H625V244.2H625.5V243.6H626V244H626.5V243H627V243.7H627.5V243.2H628V243.6H628.5V244.6H629V243.9H629.5V244.7H630V243.7H630.5V243.1H631V244.9H631.5V243.3H632V244.8H632.5V243.9H633V243.2H633.5V243H634V243.5H634.5V243.4H635V243.7H635.5V243.3H636V243.2H636.5V265.7H637H637.5H638H638.5V244.4H639V243.6H639.5V258.7H640H640.5H641H641.5V244.3H642V301H642.5V301.2H643V301.7H643.5V302.4H644V299.8H644.5V300.8H645V297.8H645.5V296.6H646V297.1H646.5V304.1H647V297.3H647.5V301.9H648V304H648.5V300.1H649V304.3H649.5V304.7H650V302.9H650.5V305.7H651V302.9H651.5V300.9H652V302.8H652.5V301.3H653V300.1H653.5H654V305.5H654.5V301.2H655V302H655.5V301H656V302.2H656.5V301.7H657V301.4H657.5V300.2H658V299.9H658.5V300.9H659V302.5H659.5V305.1H660V303.6H660.5V304.8H661V302.7H661.5V301.9H662V300H662.5V302H663V298.8H663.5V304.8H664V306H664.5V305.2H665V305.7H665.5V304.8H666V304.2H666.5V304.7H667V304.8H667.5V305.7H668V306.2H668.5V304.6H669V304.8H669.5V304.9H670V304.8H670.5V304.3H671V305.1H671.5V305.2H672H672.5V304.3H673V304.9H673.5V304H674V305.6H674.5V304.4H675V304.9H675.5V304.7H676H676.5V304.4H677V304H677.5V306.1H678V305.2H678.5H679V306.3H679.5V305H680V305.3H680.5V305H681V305.7H681.5V305.3H682V305.2H682.5V304.9H683V305.2H683.5V305.7H683.7V306.6Z" fill="#0096e2" shape-rendering="geometricPrecision"/>
<rect x="651.2" y="267.4" width="1.3" height="39.2" fill="#0096e2"/>
<rect x="479.9" y="246" width="0.9" height="51" fill="#858070" shape-rendering="geometricPrecision"/>
<rect x="482.2" y="246" width="0.9" height="51" fill="#858070" shape-rendering="geometricPrecision"/>
<rect x="484" y="246" width="0.9" height="51" fill="#858070" shape-rendering="geometricPrecision"/>
<rect x="485.6" y="246" width="0.9" height="51" fill="#858070" shape-rendering="geometricPrecision"/>
<rect x="595.3" y="239.3" width="0.7" height="61.7" fill="#c06020" shape-rendering="geometricPrecision"/>
<rect x="596" y="239.3" width="0.7" height="61.7" fill="#c06020" shape-rendering="geometricPrecision"/>
<rect x="597.6" y="239.3" width="0.7" height="63.7" fill="#c06020" shape-rendering="geometricPrecision"/>
<line x1="487.4" y1="239.3" x2="487.4" y2="306.6" stroke="rgba(0,0,0,0.5)" stroke-width="1"/>
<line x1="507.1" y1="239.3" x2="507.1" y2="306.6" stroke="rgba(0,0,0,0.5)" stroke-width="1"/>
<line x1="528.1" y1="239.3" x2="528.1" y2="306.6" stroke="rgba(0,0,0,0.5)" stroke-width="1"/>
<line x1="548.4" y1="239.3" x2="548.4" y2="306.6" stroke="rgba(0,0,0,0.5)" stroke-width="1"/>
<line x1="557.4" y1="239.3" x2="557.4" y2="306.6" stroke="rgba(0,0,0,0.5)" stroke-width="1"/>
<line x1="578.1" y1="239.3" x2="578.1" y2="306.6" stroke="rgba(0,0,0,0.5)" stroke-width="1"/>
<line x1="598.1" y1="239.3" x2="598.1" y2="306.6" stroke="rgba(0,0,0,0.5)" stroke-width="1"/>
<line x1="607.3" y1="239.3" x2="607.3" y2="306.6" stroke="rgba(0,0,0,0.5)" stroke-width="1"/>
<line x1="628" y1="239.3" x2="628" y2="306.6" stroke="rgba(0,0,0,0.5)" stroke-width="1"/>
<line x1="663.5" y1="239.3" x2="663.5" y2="306.6" stroke="rgba(0,0,0,0.5)" stroke-width="1"/>
<path d="M478.8 238.1H684.1V307.7H478.8Z M479.8 239.8V306.1H683.2V239.8Z" fill="#000" fill-rule="evenodd" shape-rendering="geometricPrecision"/>
<rect x="473.3" y="345.5" width="8.5" height="65.4" fill="#961850"/>
<rect x="474" y="346" width="0.5" height="2.93" fill="#f4c0d0" shape-rendering="geometricPrecision"/>
<rect x="474.5" y="346" width="0.5" height="2.23" fill="#f4c0d0" shape-rendering="geometricPrecision"/>
<rect x="475" y="346" width="0.5" height="1.42" fill="#f4c0d0" shape-rendering="geometricPrecision"/>
<rect x="475.5" y="346" width="0.5" height="3.15" fill="#f4c0d0" shape-rendering="geometricPrecision"/>
<rect x="476" y="346" width="0.5" height="0.68" fill="#f4c0d0" shape-rendering="geometricPrecision"/>
<rect x="476.5" y="346" width="0.5" height="1.44" fill="#f4c0d0" shape-rendering="geometricPrecision"/>
<rect x="477" y="346" width="0.5" height="1.66" fill="#f4c0d0" shape-rendering="geometricPrecision"/>
<rect x="477.5" y="346" width="0.5" height="2.72" fill="#f4c0d0" shape-rendering="geometricPrecision"/>
<rect x="478" y="346" width="0.5" height="3.04" fill="#f4c0d0" shape-rendering="geometricPrecision"/>
<rect x="478.5" y="346" width="0.5" height="2.27" fill="#f4c0d0" shape-rendering="geometricPrecision"/>
<rect x="479" y="346" width="0.5" height="2.43" fill="#f4c0d0" shape-rendering="geometricPrecision"/>
<rect x="479.5" y="346" width="0.5" height="1.12" fill="#f4c0d0" shape-rendering="geometricPrecision"/>
<rect x="480" y="346" width="0.5" height="2.37" fill="#f4c0d0" shape-rendering="geometricPrecision"/>
<rect x="480.5" y="346" width="0.5" height="3.37" fill="#f4c0d0" shape-rendering="geometricPrecision"/>
<rect x="481" y="346" width="0.5" height="1.76" fill="#f4c0d0" shape-rendering="geometricPrecision"/>
<rect x="476" y="400.15" width="0.5" height="1.53" fill="#0096e2" shape-rendering="geometricPrecision"/>
<rect x="478" y="401.34" width="0.5" height="1.44" fill="#0096e2" shape-rendering="geometricPrecision"/>
<rect x="478.5" y="400.73" width="0.5" height="1.67" fill="#33004d" shape-rendering="geometricPrecision"/>
<rect x="479.5" y="407.91" width="0.5" height="1.96" fill="#33004d" shape-rendering="geometricPrecision"/>
<rect x="481" y="406.62" width="0.5" height="2.76" fill="#0096e2" shape-rendering="geometricPrecision"/>
<rect x="481.8" y="345.5" width="158.8" height="65.4" fill="#ff0050"/>
<path d="M481.8 410.9V361.7H481.5V360H482V367.7H482.5V367.8H483V364.3H483.5V364.5H484V364.1H484.5V364.2H485V364.5H485.5V364.6H486V364.1H486.5V359.6H487V357.8H487.5V365.6H488V367.8H488.5V357.8H489V361.2H489.5V369.3H490V369H490.5V366.5H491V366.7H491.5V369.1H492V372.9H492.5V366.1H493V363.2H493.5V363.8H494V366.9H494.5V368.5H495V360.9H495.5V367.5H496V363.6H496.5V356.7H497V364.9H497.5V363.4H498V369.2H498.5V362.6H499V368.8H499.5V366.1H500V360.8H500.5V359.9H501V364.8H501.5V362.1H502V362H502.5V369.4H503V364.5H503.5V370.4H504V364.7H504.5V361.4H505V358.7H505.5V366.7H506V366H506.5V363.6H507V365.1H507.5V359.8H508V365.8H508.5V360.9H509V364.3H509.5V356.9H510V362.7H510.5V363.4H511V366.1H511.5V367.3H512V361.6H512.5V368.2H513V366.5H513.5V365.8H514V354.2H514.5V359.5H515V365H515.5V360.2H516V363.6H516.5V360.2H517V366.8H517.5V364.4H518V372.8H518.5V370.2H519V366.8H519.5V361.2H520V354.8H520.5V367.2H521V367H521.5V366.3H522V359.4H522.5V365.7H523V370.3H523.5V360.8H524V365.2H524.5V360H525V369.7H525.5V369.9H526V366.6H526.5H527V362.5H527.5V363.1H528V364H528.5V362.9H529V368.3H529.5V367.1H530V368.4H530.5V367.3H531V362.5H531.5V365H532V365.6H532.5V369.3H533V362.4H533.5V365.3H534V361.1H534.5V356.8H535V356.5H535.5V361.6H536V360.6H536.5V357.8H537V365.9H537.5V363.8H538V370.6H538.5V360.4H539V374.8H539.5V367.7H540V366.2H540.5V358.3H541V365.5H541.5V364.7H542V356.2H542.5V358.7H543V367.2H543.5V365H544V368.2H544.5V367.2H545V359.1H545.5V359.3H546V366H546.5V355.4H547V359.7H547.5V365.9H548V360.7H548.5V366.7H549V357.6H549.5V360.5H550V363H550.5V363.7H551V361.5H551.5V363.4H552V366.9H552.5V359H553V369.2H553.5V369.1H554V366.4H554.5V361.2H555V363.5H555.5V368.9H556V366H556.5V359.7H557V358.2H557.5V362.4H558V359.8H558.5V366.4H559V365.2H559.5V369.2H560V359.7H560.5V373H561V360.1H561.5V360.7H562V369.7H562.5V364.1H563V368.2H563.5V363.6H564V361H564.5V367.3H565V364.4H565.5V370.2H566V364.3H566.5V364.2H567V359H567.5V364.8H568V365.3H568.5V365.7H569V363.2H569.5V360.4H570V363.9H570.5V366.1H571V357.6H571.5V369.8H572V361.7H572.5V365H573V365.6H573.5V360.4H574V363.8H574.5H575V367.3H575.5V358.7H576V367H576.5V367.6H577V359.8H577.5V364.7H578V366.1H578.5V358.9H579V369.7H579.5V366.4H580V365.3H580.5V366.9H581V356.3H581.5V362.4H582V365.8H582.5V363.5H583V363.3H583.5V363.2H584V364.2H584.5V363.1H585V365H585.5V364H586V364.2H586.5V362.6H587V362.4H587.5V361.5H588V366.6H588.5V365.2H589V368.1H589.5V368.3H590V360.2H590.5V369.2H591V363.9H591.5V367.8H592V364.9H592.5V365.8H593V363.2H593.5V361H594V365.2H594.5V362.1H595V366.5H595.5V363.5H596V368.6H596.5V357.4H597V364.5H597.5V368.9H598V366.2H598.5V363.9H599V360.3H599.5V360.1H600V370.8H600.5V357.3H601V363.4H601.5V365.2H602V363.5H602.5V362.5H603V365.4H603.5V365.3H604V355.2H604.5V365H605V357.7H605.5V349.3H606V358.7H606.5V357.5H607V356.4H607.5V362.9H608V359.2H608.5V360.1H609V358.3H609.5V358.9H610V353.2H610.5V354.3H611V360.7H611.5V359H612V365.1H612.5V362.3H613V356.1H613.5V362H614V360.9H614.5V353H615V356H615.5V352.8H616V355.8H616.5V355.4H617V360.8H617.5V355.7H618V355.9H618.5V358.1H619V357.5H619.5V356.2H620V357H620.5V356.1H621V359H621.5V358.8H622V353.5H622.5V360.5H623V363.4H623.5V363.3H624V356.7H624.5V355H625V358.2H625.5V361.8H626V364.5H626.5V357.2H627V358.4H627.5V357.6H628V352.6H628.5V364.9H629V356.7H629.5V355.5H630V353.9H630.5V360.2H631V358.6H631.5V351.8H632V365.1H632.5V353.4H633V352.9H633.5V360.1H634V357.9H634.5V362H635V356.8H635.5V363.3H636V358.4H636.5V348H637V357.8H637.5V360H638V358.7H638.5V357.5H639V358.2H639.5V365.4H640V360H640.5V352.4H640.6V410.9Z" fill="#ffb4be" shape-rendering="geometricPrecision"/>
<path d="M481.8 410.9V364.3H481.5V372.2H482V369H482.5V368.1H483V364.4H483.5V367.1H484V366.1H484.5V395.7H485V367.6H485.5V369.3H486V365.5H486.5V361.2H487H487.5V366.2H488V370.4H488.5V361.7H489V394.2H489.5V370.3H490V369.7H490.5V367.6H491V367.5H491.5V370.9H492V373.1H492.5V367.9H493V364.8H493.5V378.3H494V369.7H494.5V370.3H495V361.1H495.5V374.3H496V371.7H496.5V357.1H497V365.3H497.5V366.5H498V372.7H498.5V363.4H499V369.2H499.5V368.9H500V362.7H500.5V360.5H501V366.6H501.5V380.6H502V363.1H502.5V370.6H503V366.1H503.5V371.1H504V397.3H504.5V392.7H505V363.4H505.5V368H506V367.8H506.5V364.9H507V367H507.5V360.7H508V366H508.5V361.6H509V366.6H509.5V358.9H510V365H510.5V363.9H511V369.1H511.5V367.6H512V363.8H512.5V390.1H513V375.2H513.5V365.8H514V356.2H514.5V359.9H515V368H515.5V363.8H516V365.4H516.5V362.1H517V369.3H517.5V365.1H518V373.3H518.5V370.3H519V370.1H519.5V364.6H520V355.3H520.5V368H521V367.4H521.5V366.6H522V361.7H522.5V366.1H523V370.8H523.5V362.4H524V368.1H524.5V376.5H525V371.1H525.5V404.5H526V367.7H526.5V370.1H527V363.8H527.5V366H528V366.2H528.5V364.2H529V386.5H529.5V371.6H530V371H530.5V368.1H531V366.8H531.5H532H532.5V386.3H533V364.7H533.5V365.4H534V362.9H534.5V356.9H535V358.3H535.5V363.2H536V362.3H536.5V358.3H537V367.4H537.5V367H538V373.1H538.5V360.6H539V386.9H539.5V370.6H540V380.1H540.5V362H541V368.9H541.5V367H542V356.8H542.5V361H543V370.7H543.5V366H544V368.5H544.5V369.1H545V361.9H545.5V360.6H546V384.2H546.5V355.7H547V360.8H547.5V370.1H548V379H548.5V367.9H549V359.1H549.5V360.9H550V365.8H550.5V365.4H551V367.1H551.5V364.8H552V368.3H552.5V360.2H553V371H553.5V369.5H554V399.4H554.5V361.6H555V364.7H555.5V370.3H556V366.1H556.5V360.6H557V359.4H557.5V364.2H558V362.8H558.5V398.6H559V369.2H559.5V371H560V360.7H560.5V376.1H561V364.2H561.5V362.2H562V370.3H562.5V373.3H563V385.1H563.5V366.4H564V361.2H564.5V399.6H565V368.4H565.5V372.2H566V365.1H566.5V377.4H567V359.3H567.5V369H568V368.3H568.5V365.9H569V367.3H569.5V360.6H570V367.7H570.5V366.8H571V357.7H571.5V370.2H572V362.6H572.5V366.1H573V366.8H573.5V367H574V366.6H574.5V378.6H575V368.9H575.5V360.1H576V367.3H576.5V368.7H577V363.3H577.5V365.5H578V367.9H578.5V362.9H579V373.5H579.5V369.3H580V366.9H580.5V368.8H581V357.1H581.5V363.5H582V369.2H582.5V366.2H583V365.7H583.5V366.4H584V380.7H584.5V368.9H585V367.3H585.5V368.7H586V381.1H586.5V366.4H587V365.6H587.5V362.7H588V369.2H588.5V367.5H589V368.4H589.5V385.4H590V362.6H590.5V379.2H591V382H591.5V369.3H592V366.2H592.5H593V374.9H593.5V362.4H594V366.9H594.5V364.9H595V366.6H595.5V383H596V370.5H596.5V377.1H597V364.8H597.5V369.5H598V373.4H598.5V368H599V377.3H599.5V361.5H600V370.9H600.5V360.4H601V366.8H601.5V366.5H602V363.7H602.5V366.1H603V365.5H603.5V390.2H604V357.1H604.5V367.2H605V358.4H605.5V350.1H606V361.7H606.5V357.6H607V360H607.5V364.7H608V359.7H608.5V361.8H609V358.9H609.5V359.1H610V354.2H610.5V355.7H611V376H611.5V379H612V368H612.5V376.7H613V358.2H613.5V365H614V379.1H614.5V355.7H615V358.2H615.5V355.3H616V356.3H616.5V356H617V362.1H617.5V356.4H618V359.1H618.5V358.7H619V373.4H619.5V357.3H620V373.8H620.5V358.3H621V360H621.5V361.9H622V356H622.5V372.5H623V377.9H623.5V364.6H624V357.4H624.5V357.6H625V358.6H625.5V363.1H626V366.7H626.5V357.8H627V362H627.5V360H628V353.4H628.5V368.6H629V356.9H629.5V357.5H630V368.9H630.5V364H631V363.9H631.5V354.3H632V365.2H632.5V354.1H633V353.7H633.5V379.4H634V361H634.5V364.7H635V359.2H635.5V369.7H636V359.5H636.5V350.9H637V376.5H637.5V360.2H638V359.2H638.5V358.9H639V358.4H639.5V366.9H640V364H640.5V354.4H640.6V410.9Z" fill="#106410" shape-rendering="geometricPrecision"/>
<path d="M481.8 410.9V379.2H481.5V377H482V381.4H482.5V381.6H483V375.7H483.5V383.4H484V374.8H484.5V395.7H485V385H485.5V383.2H486V375.7H486.5V387.3H487V379.9H487.5V379.3H488V370.4H488.5V382.9H489V394.2H489.5V388.8H490V377H490.5V381.3H491V388H491.5V386H492V386.6H492.5V376.3H493V382.1H493.5V386.3H494V380.2H494.5V374.9H495V378H495.5V382.8H496V386.3H496.5V377H497V379.8H497.5V378H498V374.3H498.5V384.6H499V388.5H499.5V382.7H500V380.3H500.5V382.3H501V381.3H501.5V380.6H502V388.8H502.5V392.5H503V381.7H503.5V385.6H504V397.3H504.5V392.7H505V381.4H505.5V382.7H506V384.7H506.5V380.2H507V382.2H507.5V379.9H508V383.2H508.5V382.2H509V372.6H509.5V378.3H510V378.4H510.5V387H511V382.8H511.5V380.2H512V382.9H512.5V390.1H513V385.6H513.5V379.5H514V383.3H514.5V383.7H515V382.6H515.5V374.3H516V381.7H516.5V384.2H517V378H517.5V374.3H518V385.4H518.5V381.2H519V379.8H519.5V390.5H520V387.3H520.5V378.9H521V377.3H521.5V385.6H522V393.4H522.5V381.6H523V380.2H523.5V385.1H524V381.6H524.5V379.4H525V379.8H525.5V404.5H526V384H526.5V380.2H527V386H527.5V380.2H528V378.2H528.5V382.2H529V386.5H529.5V377.2H530V377.3H530.5V382H531V379.4H531.5V382H532V387.8H532.5V386.3H533V382.1H533.5V379.4H534V379.2H534.5V386.1H535V382.7H535.5V380.6H536V379.5H536.5V385H537V384H537.5V380.5H538V379.5H538.5V383.3H539V386.9H539.5V382.5H540V383.4H540.5V380.1H541V383.9H541.5V377.4H542V382.4H542.5V381H543V383H543.5V381.1H544V381.9H544.5V379.4H545V377.8H545.5V377.3H546V384.2H546.5V374.3H547V382.8H547.5V382.1H548V383.6H548.5V382.1H549V378.8H549.5V381.7H550V380H550.5V377.1H551V379.9H551.5V381.8H552V386.2H552.5V390.4H553V380.7H553.5V378.2H554V399.4H554.5V376.1H555V384.8H555.5V381.2H556V378.7H556.5V379.8H557V386.1H557.5V379.4H558V384.1H558.5V398.6H559V376.6H559.5V383H560V384H560.5V382.8H561V381.9H561.5V380.3H562V377.4H562.5V383H563V385.1H563.5V379.9H564V380.4H564.5V399.6H565V380.8H565.5V384.1H566V378.3H566.5V378.8H567V390.7H567.5V376.4H568V375.5H568.5V377.4H569V376.6H569.5V381.2H570V382.6H570.5V385.9H571V382H571.5V385.6H572V374.1H572.5V380.1H573V377.7H573.5V389.7H574V384.4H574.5V379.6H575V390.4H575.5V383.5H576V380H576.5V382.2H577V376.8H577.5V377H578V381.4H578.5V379H579V385.7H579.5V382.3H580V381.8H580.5V380.2H581V384.2H581.5V384.6H582V378.7H582.5V382.5H583V380.7H583.5V381.7H584V382.2H584.5V386.9H585V382.3H585.5V383.9H586V381.1H586.5V376.7H587V381.4H587.5V386.3H588V379.6H588.5V377.7H589V380.3H589.5V385.4H590V375.3H590.5V379.2H591V382H591.5V383.7H592V378.1H592.5V377.5H593V376H593.5V384.9H594V379.4H594.5V377H595V381.8H595.5V383H596V379.5H596.5V383.7H597V378.7H597.5V385.5H598V376.4H598.5V379.7H599V382.4H599.5V381.7H600V373.5H600.5V381H601V379.5H601.5V380.6H602V378H602.5V380.9H603V375.9H603.5V390.2H604V383.3H604.5V387.2H605V385.2H605.5V382.1H606V390.9H606.5V381.8H607V389.3H607.5V384.5H608V386.2H608.5V387.4H609V390.2H609.5V388.3H610V387.7H610.5V387.2H611V381.9H611.5V383.7H612V386H612.5V381.5H613V391H613.5V384.2H614V381.5H614.5V382.8H615V382.3H615.5V385.8H616V385.6H616.5V386.1H617V387.2H617.5V392.5H618V385.3H618.5V384.5H619V387.7H619.5V386.4H620V388H620.5V391H621V382.2H621.5V385H622V382.1H622.5V390H623V391.2H623.5V378.1H624V385.2H624.5V384.6H625V390.1H625.5V390.2H626V385.6H626.5V383.5H627V382.9H627.5V385H628V382.4H628.5V387.7H629V383.9H629.5V378.9H630V378H630.5V380.2H631V384.5H631.5V385.9H632V387H632.5V384.7H633V387.4H633.5V382.6H634V381.7H634.5V380H635V387.2H635.5V385.7H636V380.3H636.5V385.1H637V389.2H637.5V376.6H638V383.9H638.5V378.3H639V385.8H639.5V391.3H640V389H640.5V390.5H640.6V410.9Z" fill="#33004d" shape-rendering="geometricPrecision"/>
<path d="M481.8 410.9V397.2H481.5V394.9H482V395.4H482.5V395.7H483V393.9H483.5V395.6H484V397.6H484.5V395.7H485V395.6H485.5V394.9H486V397H486.5V393.8H487V393.7H487.5V394.2H488V393.1H488.5V393.9H489V394.2H489.5V396.9H490V395.4H490.5V394.4H491V392.5H491.5V395.1H492V396.1H492.5V396.6H493V396H493.5V397.7H494V396.8H494.5V394.2H495V395.1H495.5V395.4H496V393H496.5V396.5H497V393H497.5V395.8H498V392.3H498.5V395.4H499V394.5H499.5V392.5H500V399H500.5V395.1H501V395.7H501.5H502V397.9H502.5V393.2H503V397.3H503.5V394.5H504V397.3H504.5V395.4H505V391.8H505.5V394.1H506V398.7H506.5V393.3H507V393.1H507.5V393.9H508V395.1H508.5V396.5H509V393.3H509.5V391.6H510V398.1H510.5V391.8H511V399.3H511.5V394H512V391.8H512.5V397.4H513V393.3H513.5V396.5H514V391.8H514.5V394.2H515V390.5H515.5V398.6H516V395.6H516.5V394.4H517V392.2H517.5V395.1H518V397H518.5V394.3H519V392.1H519.5V395.6H520V396.4H520.5V395.7H521V392.2H521.5V394.1H522V393.4H522.5V391.7H523V395.8H523.5V393.5H524V393.6H524.5V397.1H525V396.5H525.5V404.5H526V394.9H526.5V395.8H527V395.4H527.5V394.1H528V393.3H528.5V393.1H529V397.1H529.5V396.1H530V394.4H530.5V395.6H531V393.9H531.5V394.7H532V393.4H532.5V397.8H533V395H533.5V392H534V396.5H534.5V394.5H535V393.8H535.5V390.3H536V396H536.5V394.4H537V393.3H537.5V392.3H538V396.9H538.5V398.5H539V393.1H539.5V395H540V392.4H540.5V389.1H541V395.2H541.5V393.8H542V394H542.5V395.5H543V397.6H543.5V393.9H544V392.1H544.5V393H545V398.5H545.5V395.1H546V396.7H546.5V394.4H547V398.5H547.5V395.4H548V393.2H548.5V392.2H549V393.4H549.5V400.4H550V390.1H550.5V394H551V395.2H551.5V393.4H552V390.6H552.5V395.9H553V394.4H553.5V396.9H554V399.4H554.5V394.9H555V398.8H555.5V393.8H556V394.1H556.5V393.4H557V395.6H557.5V392.7H558V393.2H558.5V398.6H559V397.1H559.5V394.4H560V396.6H560.5V392.9H561V395.7H561.5V394.4H562V394.9H562.5V395.4H563V394.3H563.5V393.5H564H564.5V399.6H565V394.7H565.5V393.5H566V395.9H566.5V395.4H567V393.7H567.5V391.8H568V393.3H568.5V396.7H569V393.9H569.5V394.1H570V395.2H570.5V398H571V396.6H571.5V396.7H572V391.9H572.5V394.4H573V394.7H573.5V395.1H574V397H574.5V394.9H575V399.2H575.5V393H576V396.7H576.5V393.7H577V397.2H577.5V394.3H578V394.9H578.5V394.5H579V397.5H579.5V394.5H580V396.4H580.5V395.9H581V397.4H581.5V392.3H582V396.4H582.5V395.5H583V397H583.5V396.6H584V391.7H584.5V395.8H585V393.5H585.5V392.4H586V397.5H586.5V392.5H587V394H587.5V396.8H588V394.3H588.5V393.6H589V394.2H589.5V396.8H590V396.2H590.5V394.8H591V394.7H591.5V398H592V394.2H592.5V393.9H593V389.5H593.5V396.1H594V397.2H594.5V395.6H595V391.6H595.5V397.6H596V396H596.5V394.4H597V394.7H597.5V395H598V397.2H598.5V396H599V391.7H599.5V394.1H600V395H600.5V394.7H601V392.4H601.5V394.4H602V394.7H602.5V397.5H603V396.4H603.5V395.3H604V390.6H604.5V394H605V396.6H605.5V396.2H606V395.4H606.5V395.3H607V393H607.5V396.6H608V393.4H608.5V394.3H609V394.5H609.5V394.8H610V391.8H610.5V394.3H611V393.6H611.5V394.7H612V396.3H612.5V396.4H613V397.4H613.5V394.6H614V395.5H614.5V396.5H615V394H615.5V394.8H616V393.6H616.5V397.1H617V397.7H617.5V397.3H618V395.2H618.5V396.5H619V393.1H619.5V392.5H620V396.9H620.5V396.1H621V390.8H621.5V392H622V396.5H622.5V395.6H623V395.8H623.5V399.4H624V396.2H624.5V399.7H625V395.7H625.5V396.8H626V399H626.5V392.7H627V395.4H627.5V398H628V398.1H628.5V394.2H629V392.4H629.5V397.2H630V398.1H630.5V394.4H631V394.7H631.5V394.5H632V398.8H632.5V394.7H633V394.5H633.5V396.8H634V397.2H634.5V399.3H635V395.3H635.5V390.6H636V393.3H636.5V395.5H637V396.4H637.5V393.8H638V400.6H638.5V395.8H639V397.5H639.5V396H640V394.6H640.5V397.2H640.6V410.9Z" fill="#ff6600" shape-rendering="geometricPrecision"/>
<path d="M481.8 410.9V398.4H481.5V396.1H482V396.6H482.5V396.9H483V395.1H483.5V396.8H484V398.8H484.5V396.9H485V396.8H485.5V396.1H486V398.2H486.5V395H487V394.9H487.5V395.4H488V394.3H488.5V395.1H489V395.4H489.5V398.1H490V396.6H490.5V395.6H491V393.7H491.5V396.3H492V397.3H492.5V397.8H493V397.2H493.5V398.9H494V398H494.5V395.4H495V396.3H495.5V396.6H496V394.2H496.5V397.7H497V394.2H497.5V397H498V393.5H498.5V396.6H499V395.7H499.5V393.7H500V400.2H500.5V396.3H501V396.9H501.5H502V399.1H502.5V394.4H503V398.5H503.5V395.7H504V398.5H504.5V396.6H505V393H505.5V395.3H506V399.9H506.5V394.5H507V394.3H507.5V395.1H508V396.3H508.5V397.7H509V394.5H509.5V392.8H510V399.3H510.5V393H511V400.5H511.5V395.2H512V393H512.5V398.6H513V394.5H513.5V397.7H514V393H514.5V395.4H515V391.7H515.5V399.8H516V396.8H516.5V395.6H517V393.4H517.5V396.3H518V398.2H518.5V395.5H519V393.3H519.5V396.8H520V397.6H520.5V396.9H521V393.4H521.5V395.3H522V394.6H522.5V392.9H523V397H523.5V394.7H524V394.8H524.5V398.3H525V397.7H525.5V405.7H526V396.1H526.5V397H527V396.6H527.5V395.3H528V394.5H528.5V394.3H529V398.3H529.5V397.3H530V395.6H530.5V396.8H531V395.1H531.5V395.9H532V394.6H532.5V399H533V396.2H533.5V393.2H534V397.7H534.5V395.7H535V395H535.5V391.5H536V397.2H536.5V395.6H537V394.5H537.5V393.5H538V398.1H538.5V399.7H539V394.3H539.5V396.2H540V393.6H540.5V390.3H541V396.4H541.5V395H542V395.2H542.5V396.7H543V398.8H543.5V395.1H544V393.3H544.5V394.2H545V399.7H545.5V396.3H546V397.9H546.5V395.6H547V399.7H547.5V396.6H548V394.4H548.5V393.4H549V394.6H549.5V401.6H550V391.3H550.5V395.2H551V396.4H551.5V394.6H552V391.8H552.5V397.1H553V395.6H553.5V398.1H554V400.6H554.5V396.1H555V400H555.5V395H556V395.3H556.5V394.6H557V396.8H557.5V393.9H558V394.4H558.5V399.8H559V398.3H559.5V395.6H560V397.8H560.5V394.1H561V396.9H561.5V395.6H562V396.1H562.5V396.6H563V395.5H563.5V394.7H564H564.5V400.8H565V395.9H565.5V394.7H566V397.1H566.5V396.6H567V394.9H567.5V393H568V394.5H568.5V397.9H569V395.1H569.5V395.3H570V396.4H570.5V399.2H571V397.8H571.5V397.9H572V393.1H572.5V395.6H573V395.9H573.5V396.3H574V398.2H574.5V396.1H575V400.4H575.5V394.2H576V397.9H576.5V394.9H577V398.4H577.5V395.5H578V396.1H578.5V395.7H579V398.7H579.5V395.7H580V397.6H580.5V397.1H581V398.6H581.5V393.5H582V397.6H582.5V396.7H583V398.2H583.5V397.8H584V392.9H584.5V397H585V394.7H585.5V393.6H586V398.7H586.5V393.7H587V395.2H587.5V398H588V395.5H588.5V394.8H589V395.4H589.5V398H590V397.4H590.5V396H591V395.9H591.5V399.2H592V395.4H592.5V395.1H593V390.7H593.5V397.3H594V398.4H594.5V396.8H595V392.8H595.5V398.8H596V397.2H596.5V395.6H597V395.9H597.5V396.2H598V398.4H598.5V397.2H599V392.9H599.5V395.3H600V396.2H600.5V395.9H601V393.6H601.5V395.6H602V395.9H602.5V398.7H603V397.6H603.5V396.5H604V391.8H604.5V395.2H605V397.8H605.5V397.4H606V396.6H606.5V396.5H607V394.2H607.5V397.8H608V394.6H608.5V395.5H609V395.7H609.5V396H610V393H610.5V395.5H611V394.8H611.5V395.9H612V397.5H612.5V397.6H613V398.6H613.5V395.8H614V396.7H614.5V397.7H615V395.2H615.5V396H616V394.8H616.5V398.3H617V398.9H617.5V398.5H618V396.4H618.5V397.7H619V394.3H619.5V393.7H620V398.1H620.5V397.3H621V392H621.5V393.2H622V397.7H622.5V396.8H623V397H623.5V400.6H624V397.4H624.5V400.9H625V396.9H625.5V398H626V400.2H626.5V393.9H627V396.6H627.5V399.2H628V399.3H628.5V395.4H629V393.6H629.5V398.4H630V399.3H630.5V395.6H631V395.9H631.5V395.7H632V400H632.5V395.9H633V395.7H633.5V398H634V398.4H634.5V400.5H635V396.5H635.5V391.8H636V394.5H636.5V396.7H637V397.6H637.5V395H638V401.8H638.5V397H639V398.7H639.5V397.2H640V395.8H640.5V398.4H640.6V410.9Z" fill="#0096e2" shape-rendering="geometricPrecision"/>
<rect x="596.3" y="347.5" width="1" height="59.4" fill="#c890a0"/>
<rect x="640.6" y="345.5" width="21.7" height="65.4" fill="#ffb4be"/>
<rect x="640.6" y="345.5" width="21.7" height="2.5" fill="#ffd0d8"/>
<path d="M640.6 410.9V404.7H641V401.9H642V396.9H643V385H644V392H645V404.2H646V358H647V362H648V405.5H649V363H650V368H651V390H652V404H653V370H654V374H655V400.8H656V383H657H658V390H659V404.8H660V395H661V407.6H662V400.2H662.3V410.9Z" fill="#ff6600" shape-rendering="geometricPrecision"/>
<rect x="646" y="372" width="1" height="6" fill="#33004d" shape-rendering="geometricPrecision"/>
<rect x="649" y="370" width="1" height="8" fill="#8a4060" shape-rendering="geometricPrecision"/>
<rect x="650" y="385" width="1" height="6" fill="#106410" shape-rendering="geometricPrecision"/>
<rect x="653" y="380" width="1" height="5" fill="#33004d" shape-rendering="geometricPrecision"/>
<rect x="656" y="392" width="1" height="6" fill="#a03070" shape-rendering="geometricPrecision"/>
<rect x="647" y="395" width="1" height="4" fill="#106410" shape-rendering="geometricPrecision"/>
<rect x="644" y="398" width="1" height="4" fill="#33004d" shape-rendering="geometricPrecision"/>
<rect x="658" y="400" width="1" height="4" fill="#33004d" shape-rendering="geometricPrecision"/>
<rect x="649.37" y="405.79" width="0.6" height="2" fill="#402040" shape-rendering="geometricPrecision"/>
<rect x="654.97" y="403.95" width="0.6" height="2" fill="#402040" shape-rendering="geometricPrecision"/>
<rect x="650.61" y="404.43" width="0.6" height="2" fill="#402040" shape-rendering="geometricPrecision"/>
<rect x="647.93" y="405.96" width="0.6" height="2" fill="#402040" shape-rendering="geometricPrecision"/>
<rect x="649.36" y="404.04" width="0.6" height="2" fill="#402040" shape-rendering="geometricPrecision"/>
<rect x="644.64" y="407.81" width="0.6" height="2" fill="#402040" shape-rendering="geometricPrecision"/>
<rect x="642.56" y="405.74" width="0.6" height="2" fill="#402040" shape-rendering="geometricPrecision"/>
<rect x="654.21" y="402.76" width="0.6" height="2" fill="#402040" shape-rendering="geometricPrecision"/>
<rect x="662.3" y="345.5" width="21.2" height="65.4" fill="#ff6600"/>
<path d="M662.3 345.5V348.51H662.5V347.69H663V347.59H663.5V351.84H664V346.07H664.5V347.01H665V346.38H665.5V345.51H666V346.45H666.5V347.96H667V345.61H667.5V347.51H668V347.71H668.5V346.41H669V347.41H669.5V346.97H670V346.35H670.5V346.36H671V346.28H671.5V346.98H672V345.75H672.5V345.51H673V345.59H673.5V347.91H674V347.93H674.5V345.94H675V347.93H675.5V347.47H676V345.89H676.5V348.03H677V347.6H677.5V347.57H678V347.84H678.5V347.57H679V347.5H679.5V345.83H680V346.12H680.5V348.54H681V347.62H681.5V347.3H682V347.25H682.5V347.41H683V352.68H683.5V348.16H683.5V345.5Z" fill="#4a2a3a" shape-rendering="geometricPrecision"/>
<line x1="481.8" y1="345.5" x2="481.8" y2="410.9" stroke="rgba(0,0,0,0.5)" stroke-width="1"/>
<line x1="503" y1="345.5" x2="503" y2="410.9" stroke="rgba(0,0,0,0.5)" stroke-width="1"/>
<line x1="525" y1="345.5" x2="525" y2="410.9" stroke="rgba(0,0,0,0.5)" stroke-width="1"/>
<line x1="544.5" y1="345.5" x2="544.5" y2="410.9" stroke="rgba(0,0,0,0.5)" stroke-width="1"/>
<line x1="553.8" y1="345.5" x2="553.8" y2="410.9" stroke="rgba(0,0,0,0.5)" stroke-width="1"/>
<line x1="575.5" y1="345.5" x2="575.5" y2="410.9" stroke="rgba(0,0,0,0.5)" stroke-width="1"/>
<line x1="597" y1="345.5" x2="597" y2="410.9" stroke="rgba(0,0,0,0.5)" stroke-width="1"/>
<line x1="604.5" y1="345.5" x2="604.5" y2="410.9" stroke="rgba(0,0,0,0.5)" stroke-width="1"/>
<line x1="626.3" y1="345.5" x2="626.3" y2="410.9" stroke="rgba(0,0,0,0.5)" stroke-width="1"/>
<path d="M472.8 344.6H684V412H472.8Z M473.8 346V410.4H683V346Z" fill="#000" fill-rule="evenodd" shape-rendering="geometricPrecision"/>
<line x1="354.6" y1="28.3" x2="354.6" y2="52" stroke="#000" stroke-width="1.9" shape-rendering="geometricPrecision"/>
<polyline points="350.4,44.8 354.6,52.6 358.8,44.8" fill="none" stroke="#000" stroke-width="1.8" stroke-linejoin="miter" shape-rendering="geometricPrecision"/>
<text x="19.6" y="13.8" font-size="18.5" text-anchor="start">(a)</text>
<text x="28.2" y="41.1" font-size="16" text-anchor="start">K = 3</text>
<text x="266.2" y="14.5" font-size="13.9"><tspan font-style="italic">A. homolepis</tspan> var. <tspan font-style="italic">umbellata</tspan></text>
<text x="159.8" y="163" font-size="17.5" text-anchor="start" font-style="italic">A. firma</text>
<text x="345" y="163" font-size="17.5" text-anchor="start" font-style="italic">A. homolepis</text>
<text x="519.6" y="163" font-size="17.5" text-anchor="start" font-style="italic">A. veitchii</text>
<text x="2.1" y="202.7" font-size="18.5" text-anchor="start">(b)</text>
<text x="7.9" y="227.2" font-size="16" text-anchor="start">K = 2</text>
<text x="7.9" y="336.2" font-size="16" text-anchor="start">K = 4</text>
<text x="293.8" y="202.7" font-size="18.5" text-anchor="start">(c)</text>
<text x="296.3" y="229.9" font-size="16" text-anchor="start">K = 2</text>
<text x="302" y="333.3" font-size="16" text-anchor="start">K = 4</text>
<text x="478.8" y="202.7" font-size="18.5" text-anchor="start">(d)</text>
<text x="479.2" y="228.4" font-size="16" text-anchor="start">K = 2</text>
<text x="479.2" y="335.2" font-size="16" text-anchor="start">K = 7</text>
<text x="28.4" y="135.9" font-size="9.5" text-anchor="middle">1</text>
<text x="43.3" y="135.9" font-size="9.5" text-anchor="middle">2</text>
<text x="55.9" y="135.9" font-size="9.5" text-anchor="middle">3</text>
<text x="68.5" y="135.9" font-size="9.5" text-anchor="middle">4</text>
<text x="83.6" y="135.9" font-size="9.5" text-anchor="middle">5</text>
<text x="98.3" y="135.9" font-size="9.5" text-anchor="middle">6</text>
<text x="113.4" y="135.9" font-size="9.5" text-anchor="middle">7</text>
<text x="128.1" y="135.9" font-size="9.5" text-anchor="middle">8</text>
<text x="143.2" y="135.9" font-size="9.5" text-anchor="middle">9</text>
<text x="156.5" y="135.9" font-size="9.5" text-anchor="middle">10</text>
<text x="173.3" y="135.9" font-size="9.5" text-anchor="middle">11</text>
<text x="188.2" y="135.9" font-size="9.5" text-anchor="middle">12</text>
<text x="208.8" y="135.9" font-size="9.5" text-anchor="middle">14</text>
<text x="225.7" y="135.9" font-size="9.5" text-anchor="middle">15</text>
<text x="238.6" y="135.9" font-size="9.5" text-anchor="middle">16</text>
<text x="250.7" y="135.9" font-size="9.5" text-anchor="middle">17</text>
<text x="268.5" y="135.9" font-size="9.5" text-anchor="middle">18</text>
<text x="283.4" y="135.9" font-size="9.5" text-anchor="middle">19</text>
<text x="297.8" y="135.9" font-size="9.5" text-anchor="middle">20</text>
<text x="317.5" y="135.9" font-size="9.5" text-anchor="middle">21</text>
<text x="335.2" y="135.9" font-size="9.5" text-anchor="middle">22</text>
<text x="353.3" y="135.9" font-size="9.5" text-anchor="middle">23</text>
<text x="366" y="135.9" font-size="9.5" text-anchor="middle">24</text>
<text x="377.6" y="135.9" font-size="9.5" text-anchor="middle">25</text>
<text x="390.2" y="135.9" font-size="9.5" text-anchor="middle">26</text>
<text x="402.7" y="135.9" font-size="9.5" text-anchor="middle">27</text>
<text x="415.2" y="135.9" font-size="9.5" text-anchor="middle">28</text>
<text x="427.4" y="135.9" font-size="9.5" text-anchor="middle">29</text>
<text x="439.7" y="135.9" font-size="9.5" text-anchor="middle">30</text>
<text x="454.4" y="135.9" font-size="9.5" text-anchor="middle">31</text>
<text x="470.3" y="135.9" font-size="9.5" text-anchor="middle">32</text>
<text x="482.8" y="135.9" font-size="9.5" text-anchor="middle">33</text>
<text x="500.1" y="135.9" font-size="9.5" text-anchor="middle">34</text>
<text x="517.6" y="135.9" font-size="9.5" text-anchor="middle">35</text>
<text x="532.4" y="135.9" font-size="9.5" text-anchor="middle">36</text>
<text x="544.7" y="135.9" font-size="9.5" text-anchor="middle">37</text>
<text x="562.2" y="135.9" font-size="9.5" text-anchor="middle">38</text>
<text x="577.9" y="135.9" font-size="9.5" text-anchor="middle">39</text>
<text x="590.1" y="135.9" font-size="9.5" text-anchor="middle">40</text>
<text x="604.4" y="135.9" font-size="9.5" text-anchor="middle">41</text>
<text x="619.7" y="135.9" font-size="9.5" text-anchor="middle">42</text>
<text x="639.7" y="135.9" font-size="9.5" text-anchor="middle">43</text>
<text x="8.5" y="316.1" font-size="9.5" text-anchor="middle">1</text>
<text x="23.3" y="316.1" font-size="9.5" text-anchor="middle">2</text>
<text x="33.4" y="316.1" font-size="9.5" text-anchor="middle">3</text>
<text x="45.5" y="316.1" font-size="9.5" text-anchor="middle">4</text>
<text x="58.2" y="316.1" font-size="9.5" text-anchor="middle">5</text>
<text x="70.5" y="316.1" font-size="9.5" text-anchor="middle">6</text>
<text x="83" y="316.1" font-size="9.5" text-anchor="middle">7</text>
<text x="97.8" y="316.1" font-size="9.5" text-anchor="middle">8</text>
<text x="110.5" y="316.1" font-size="9.5" text-anchor="middle">9</text>
<text x="121.7" y="316.1" font-size="9.5" text-anchor="middle">10</text>
<text x="135.5" y="316.1" font-size="9.5" text-anchor="middle">11</text>
<text x="151.4" y="316.1" font-size="9.5" text-anchor="middle">12</text>
<text x="168.5" y="316.1" font-size="9.5" text-anchor="middle">14</text>
<text x="181.2" y="316.1" font-size="9.5" text-anchor="middle">15</text>
<text x="193.2" y="316.1" font-size="9.5" text-anchor="middle">16</text>
<text x="205.3" y="316.1" font-size="9.5" text-anchor="middle">17</text>
<text x="218.4" y="316.1" font-size="9.5" text-anchor="middle">18</text>
<text x="233.5" y="316.1" font-size="9.5" text-anchor="middle">19</text>
<text x="247.3" y="316.1" font-size="9.5" text-anchor="middle">20</text>
<text x="262.6" y="316.1" font-size="9.5" text-anchor="middle">21</text>
<text x="277.5" y="316.1" font-size="9.5" text-anchor="middle">22</text>
<text x="7.2" y="422.5" font-size="9.5" text-anchor="middle">1</text>
<text x="22" y="422.5" font-size="9.5" text-anchor="middle">2</text>
<text x="32.1" y="422.5" font-size="9.5" text-anchor="middle">3</text>
<text x="44.2" y="422.5" font-size="9.5" text-anchor="middle">4</text>
<text x="56.9" y="422.5" font-size="9.5" text-anchor="middle">5</text>
<text x="69.2" y="422.5" font-size="9.5" text-anchor="middle">6</text>
<text x="81.7" y="422.5" font-size="9.5" text-anchor="middle">7</text>
<text x="96.5" y="422.5" font-size="9.5" text-anchor="middle">8</text>
<text x="109.2" y="422.5" font-size="9.5" text-anchor="middle">9</text>
<text x="120.4" y="422.5" font-size="9.5" text-anchor="middle">10</text>
<text x="134.2" y="422.5" font-size="9.5" text-anchor="middle">11</text>
<text x="150.1" y="422.5" font-size="9.5" text-anchor="middle">12</text>
<text x="167.2" y="422.5" font-size="9.5" text-anchor="middle">14</text>
<text x="179.9" y="422.5" font-size="9.5" text-anchor="middle">15</text>
<text x="191.9" y="422.5" font-size="9.5" text-anchor="middle">16</text>
<text x="204" y="422.5" font-size="9.5" text-anchor="middle">17</text>
<text x="217.1" y="422.5" font-size="9.5" text-anchor="middle">18</text>
<text x="232.2" y="422.5" font-size="9.5" text-anchor="middle">19</text>
<text x="246" y="422.5" font-size="9.5" text-anchor="middle">20</text>
<text x="261.3" y="422.5" font-size="9.5" text-anchor="middle">21</text>
<text x="276.2" y="422.5" font-size="9.5" text-anchor="middle">22</text>
<text x="310.5" y="316.1" font-size="9.5" text-anchor="middle">23</text>
<text x="330.7" y="316.1" font-size="9.5" text-anchor="middle">24</text>
<text x="343" y="316.1" font-size="9.5" text-anchor="middle">25</text>
<text x="355.7" y="316.1" font-size="9.5" text-anchor="middle">26</text>
<text x="380.1" y="316.1" font-size="9.5" text-anchor="middle">27</text>
<text x="400.4" y="316.1" font-size="9.5" text-anchor="middle">28</text>
<text x="420" y="316.1" font-size="9.5" text-anchor="middle">29</text>
<text x="445" y="316.1" font-size="9.5" text-anchor="middle">30</text>
<text x="308.4" y="422.5" font-size="9.5" text-anchor="middle">23</text>
<text x="328.6" y="422.5" font-size="9.5" text-anchor="middle">24</text>
<text x="341.3" y="422.5" font-size="9.5" text-anchor="middle">25</text>
<text x="354" y="422.5" font-size="9.5" text-anchor="middle">26</text>
<text x="378.3" y="422.5" font-size="9.5" text-anchor="middle">27</text>
<text x="398" y="422.5" font-size="9.5" text-anchor="middle">28</text>
<text x="418.8" y="422.5" font-size="9.5" text-anchor="middle">29</text>
<text x="443.9" y="422.5" font-size="9.5" text-anchor="middle">30</text>
<text x="485" y="316.1" font-size="9.5" text-anchor="middle">32</text>
<text x="500.5" y="316.1" font-size="9.5" text-anchor="middle">33</text>
<text x="517.5" y="316.1" font-size="9.5" text-anchor="middle">34</text>
<text x="535.1" y="316.1" font-size="9.5" text-anchor="middle">35</text>
<text x="552.4" y="316.1" font-size="9.5" text-anchor="middle">36</text>
<text x="570" y="316.1" font-size="9.5" text-anchor="middle">37</text>
<text x="587.1" y="316.1" font-size="9.5" text-anchor="middle">38</text>
<text x="602.1" y="316.1" font-size="9.5" text-anchor="middle">39</text>
<text x="617.1" y="316.1" font-size="9.5" text-anchor="middle">40</text>
<text x="634" y="316.1" font-size="9.5" text-anchor="middle">41</text>
<text x="652.1" y="316.1" font-size="9.5" text-anchor="middle">42</text>
<text x="674.2" y="316.1" font-size="9.5" text-anchor="middle">43</text>
<text x="484.1" y="422.5" font-size="9.5" text-anchor="middle">32</text>
<text x="498.9" y="422.5" font-size="9.5" text-anchor="middle">33</text>
<text x="516.1" y="422.5" font-size="9.5" text-anchor="middle">34</text>
<text x="533.7" y="422.5" font-size="9.5" text-anchor="middle">35</text>
<text x="551" y="422.5" font-size="9.5" text-anchor="middle">36</text>
<text x="568.9" y="422.5" font-size="9.5" text-anchor="middle">37</text>
<text x="586.1" y="422.5" font-size="9.5" text-anchor="middle">38</text>
<text x="600.9" y="422.5" font-size="9.5" text-anchor="middle">39</text>
<text x="616" y="422.5" font-size="9.5" text-anchor="middle">40</text>
<text x="632.6" y="422.5" font-size="9.5" text-anchor="middle">41</text>
<text x="650.5" y="422.5" font-size="9.5" text-anchor="middle">42</text>
<text x="672.4" y="422.5" font-size="9.5" text-anchor="middle">43</text>
</svg>
</body></html>
